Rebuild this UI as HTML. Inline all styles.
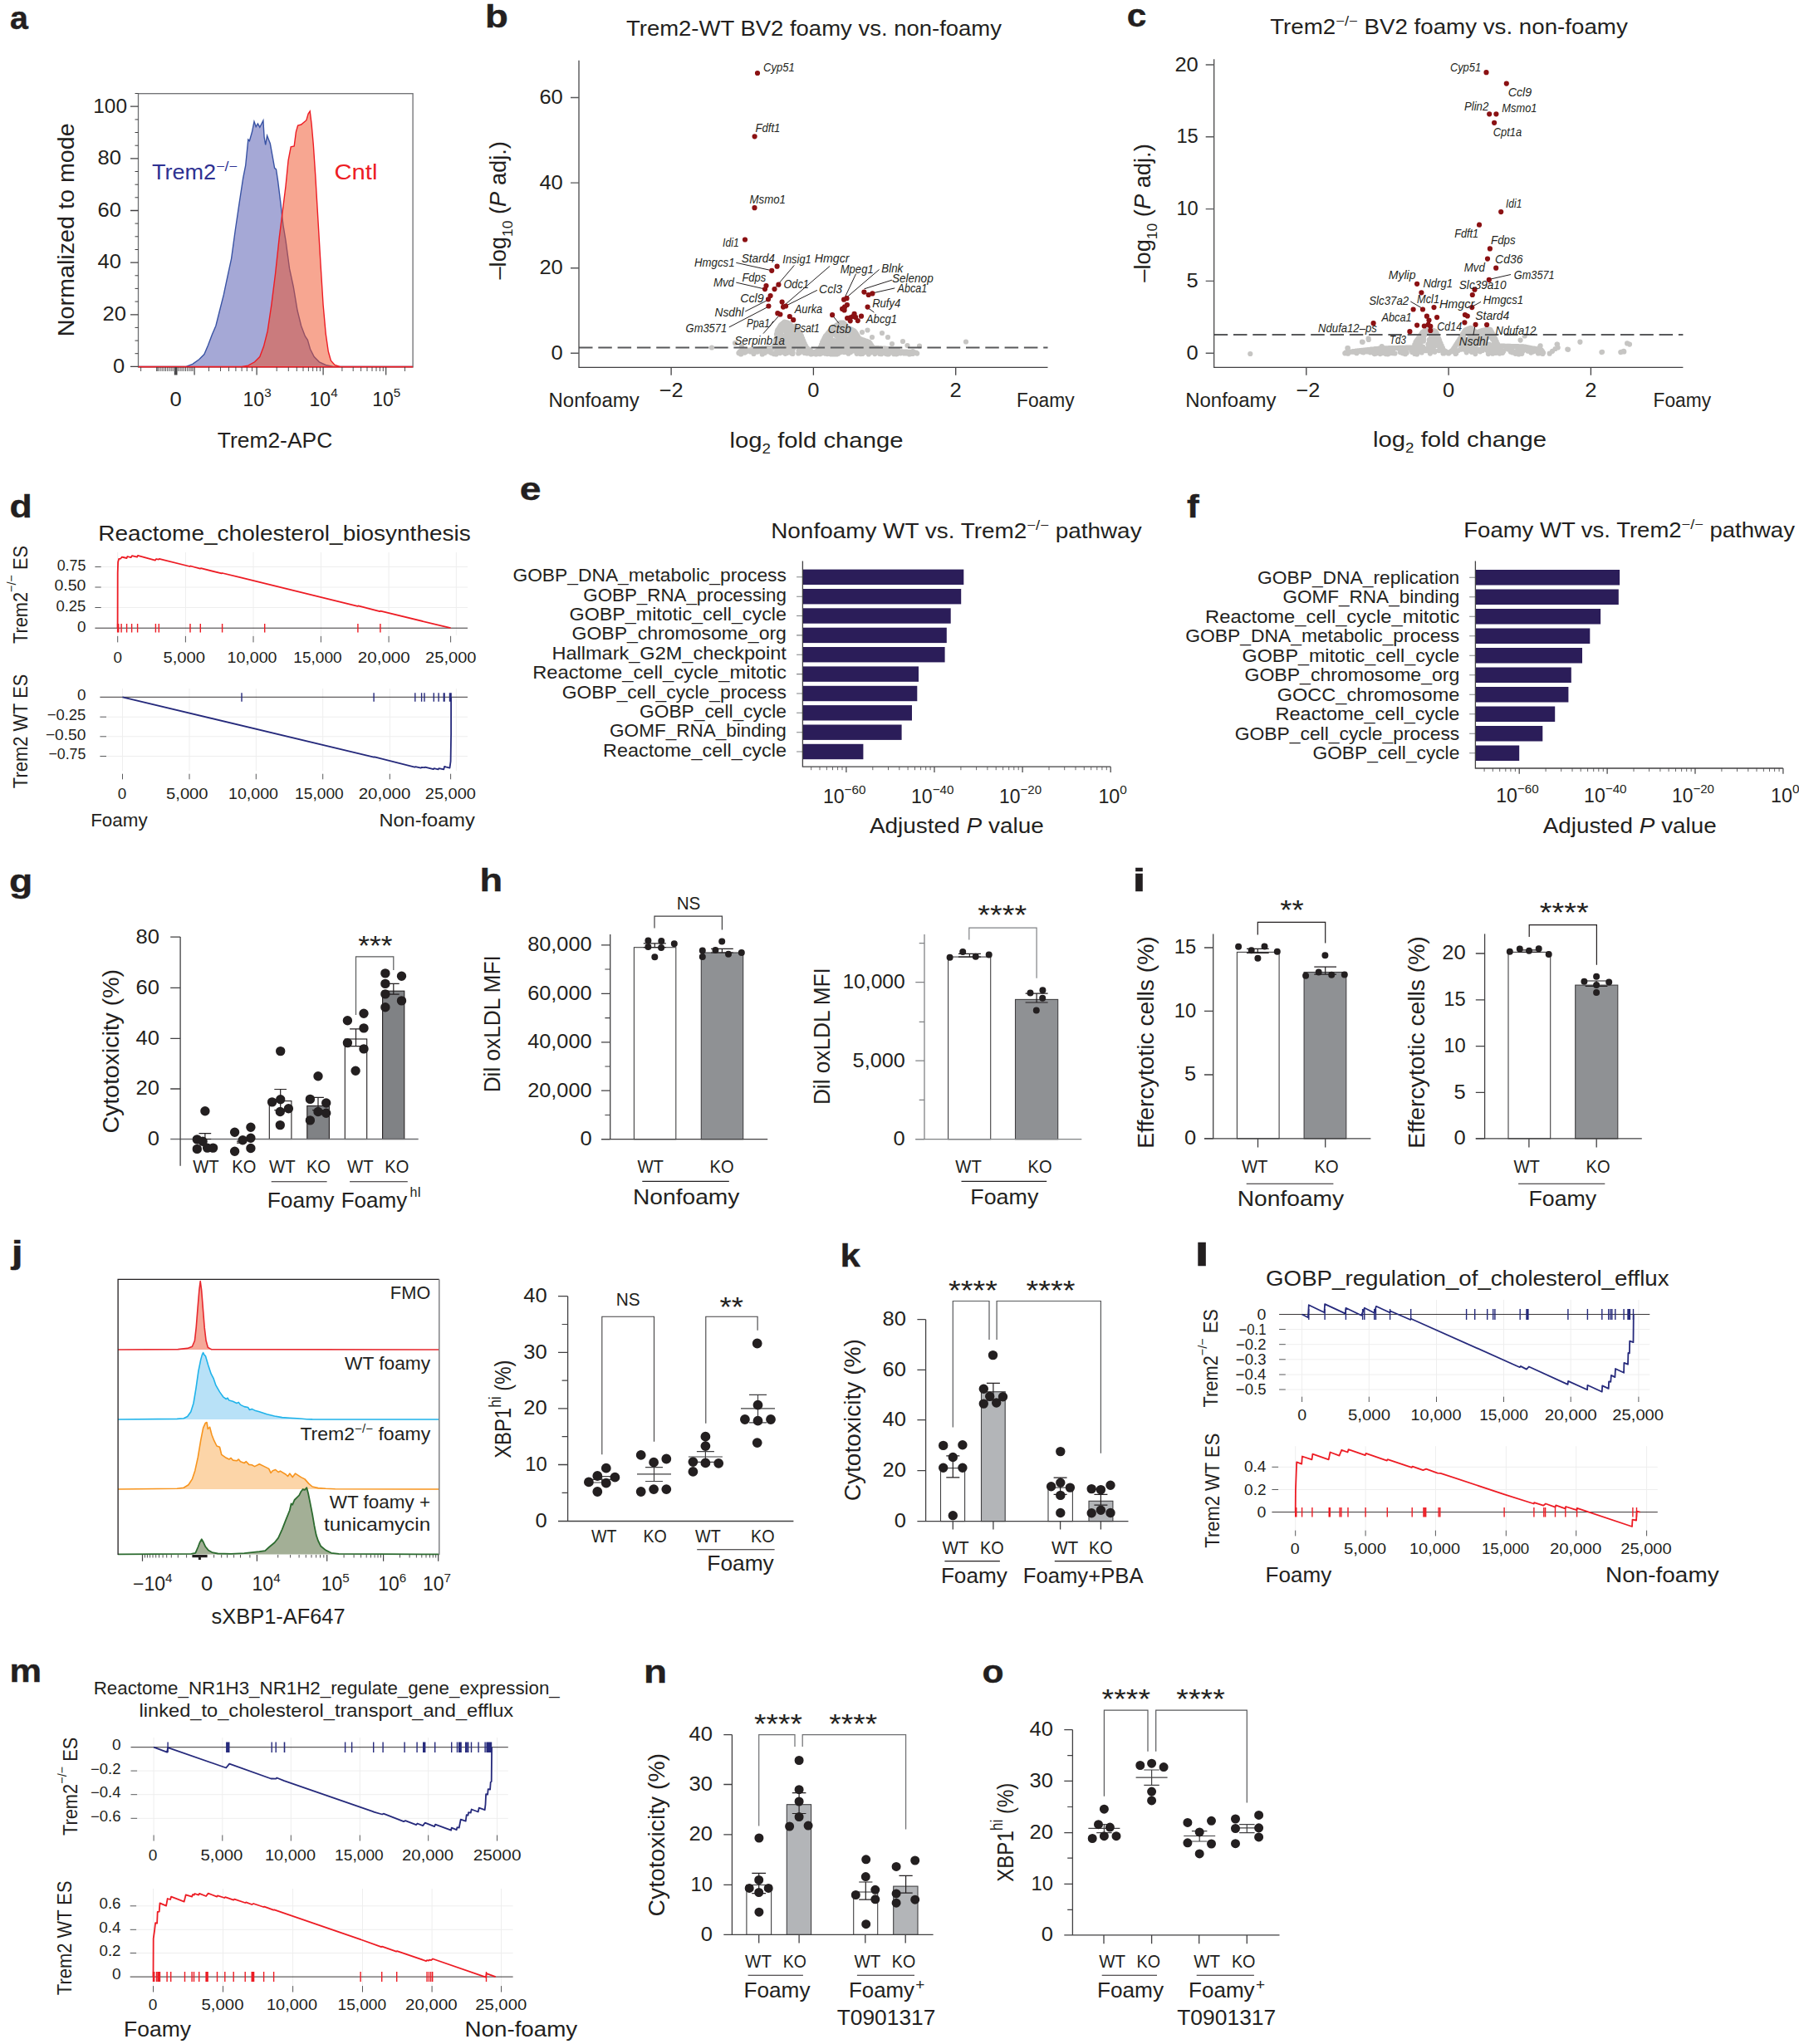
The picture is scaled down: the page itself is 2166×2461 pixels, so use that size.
<!DOCTYPE html>
<html><head><meta charset="utf-8"><title>Figure</title>
<style>html,body{margin:0;padding:0;background:#fff}svg{display:block}text{font-family:"Liberation Sans",sans-serif}</style></head>
<body>
<svg width="2166" height="2461" viewBox="0 0 2166 2461" fill="#231f20">
<rect width="2166" height="2461" fill="#fff"/>
<text transform="translate(12.1 34.8) scale(0.998 1)" font-size="39.5" font-weight="bold" stroke="#231f20" stroke-width="0.4">a</text>
<path d="M166.5 441.4 L224.1 441.4 L231.9 438.3 L239.7 432.7 L245.9 426.5 L250.6 415.6 L255.3 403.1 L259.9 392.2 L264.6 373.5 L269.3 354.9 L273.9 333.1 L278.6 311.3 L283.3 277 L287.9 245.9 L292.6 214.8 L295.7 199.2 L298.8 168.1 L300.4 169.6 L303.5 158.8 L306 146.3 L308.2 152.5 L310.4 148.8 L312.8 153.2 L316.9 145.1 L318.1 165 L319.7 174.3 L321.6 163.4 L325.3 172.8 L328.4 189.9 L330.6 202.3 L332.5 203.9 L334.6 217.9 L337.7 242.8 L340.9 270.8 L344 289.5 L348.6 323.7 L353.3 345.5 L358 373.5 L362.6 392.2 L367.3 404.7 L370.4 409.3 L373.5 420.2 L378.2 429.6 L384.4 435.8 L392.2 439.5 L401.6 441.4 L497.1 441.4" fill="#a5a8d6" stroke="#3953a4" stroke-width="1.4"/>
<path d="M166.5 441.4 L291.1 441.4 L298.8 440.2 L306.6 435.8 L312.8 429.6 L317.5 417.1 L322.2 398.4 L326.8 367.3 L331.5 330 L336.2 286.4 L340.9 249 L344 224.1 L347.1 193 L350.2 176.8 L354.2 175.9 L356.4 158.8 L358.6 151 L362.6 150 L368.9 144.7 L371.1 137 L373.2 133.9 L375.1 149.4 L377.3 174.3 L379.8 211.7 L382.9 264.6 L386 317.5 L389.1 367.3 L392.2 401.6 L395.3 423.3 L398.4 434.2 L403.1 439.5 L409.3 441.4 L497.1 441.4" fill="#f04e23" stroke="#ed1c24" stroke-width="1.4" fill-opacity="0.5"/>
<rect x="166.5" y="112.7" width="330.6" height="329.3" fill="none" stroke="#6d6e71" stroke-width="1.3"/>
<line x1="166.5" y1="441.7" x2="497.1" y2="441.7" stroke="#ed1c24" stroke-width="1.4"/>
<path d="M157 441.4H166.5M157 378.8H166.5M157 316.1H166.5M157 253.5H166.5M157 190.8H166.5M157 128.2H166.5" stroke="#414042" stroke-width="1.3" fill="none"/>
<path d="M162.5 425.7H166.5M162.5 410.1H166.5M162.5 394.4H166.5M162.5 363.1H166.5M162.5 347.4H166.5M162.5 331.8H166.5M162.5 300.5H166.5M162.5 284.8H166.5M162.5 269.1H166.5M162.5 237.8H166.5M162.5 222.2H166.5M162.5 206.5H166.5M162.5 175.2H166.5M162.5 159.5H166.5M162.5 143.9H166.5M162.5 112.5H166.5" stroke="#414042" stroke-width="1" fill="none"/>
<text x="150.3" y="448.7" font-size="23.5" text-anchor="end" textLength="14.2" lengthAdjust="spacingAndGlyphs">0</text>
<text x="152" y="386.1" font-size="23.5" text-anchor="end" textLength="28.4" lengthAdjust="spacingAndGlyphs">20</text>
<text x="146" y="323.4" font-size="23.5" text-anchor="end" textLength="28.4" lengthAdjust="spacingAndGlyphs">40</text>
<text x="146" y="260.8" font-size="23.5" text-anchor="end" textLength="28.4" lengthAdjust="spacingAndGlyphs">60</text>
<text x="146" y="198.1" font-size="23.5" text-anchor="end" textLength="28.4" lengthAdjust="spacingAndGlyphs">80</text>
<text x="153" y="135.5" font-size="23.5" text-anchor="end" textLength="40.7" lengthAdjust="spacingAndGlyphs">100</text>
<text font-size="26.8" text-anchor="middle" textLength="257" lengthAdjust="spacingAndGlyphs" transform="translate(88.6 276.7) rotate(-90)">Normalized to mode</text>
<path d="M234.1 442V451.5M309.1 442V451.5M389.1 442V451.5M464.7 442V451.5" stroke="#414042" stroke-width="1.2" fill="none"/>
<path d="M188.9 442V447M190.8 442V447M193 442V447M195.2 442V447M197.4 442V447M199.5 442V447M201.7 442V447M203.9 442V447M206.1 442V447M208.2 442V447M214.8 442V447M217 442V447M219.1 442V447M221.3 442V447M223.5 442V447M225.7 442V447M227.9 442V447M230 442V447M231.9 442V447" stroke="#414042" stroke-width="0.9" fill="none"/>
<path d="M210.4 442V451.5M211.7 442V451.5M212.9 442V451.5" stroke="#414042" stroke-width="1.2" fill="none"/>
<path d="M169.6 442V447M188.9 442V447M251.5 442V447M265.5 442V447M275.5 442V447M283.9 442V447M291.1 442V447M297.3 442V447M303.5 442V447M333.2 442V447M347.3 442V447M357.3 442V447M365 442V447M371.4 442V447M376.7 442V447M381.4 442V447M385.4 442V447M411.9 442V447M425.2 442V447M434.6 442V447M442 442V447M448 442V447M453 442V447M457.4 442V447M461.3 442V447M487.5 442V447" stroke="#414042" stroke-width="0.9" fill="none"/>
<text x="211.7" y="489" font-size="23.5" text-anchor="middle" textLength="14.2" lengthAdjust="spacingAndGlyphs">0</text>
<text x="309.6" y="489" font-size="23" text-anchor="middle">10<tspan dy="-10.6" font-size="15.2">3</tspan><tspan dy="10.6">&#8203;</tspan></text>
<text x="389.6" y="489" font-size="23" text-anchor="middle">10<tspan dy="-10.6" font-size="15.2">4</tspan><tspan dy="10.6">&#8203;</tspan></text>
<text x="465.2" y="489" font-size="23" text-anchor="middle">10<tspan dy="-10.6" font-size="15.2">5</tspan><tspan dy="10.6">&#8203;</tspan></text>
<text x="331" y="538.5" font-size="25" text-anchor="middle" textLength="138.5" lengthAdjust="spacingAndGlyphs">Trem2-APC</text>
<text x="183" y="215.7" font-size="25" textLength="103" lengthAdjust="spacingAndGlyphs" fill="#2e3192">Trem2<tspan dy="-10" font-size="16.5">−/−</tspan><tspan dy="10">&#8203;</tspan></text>
<text x="402.5" y="215.7" font-size="25" textLength="52" lengthAdjust="spacingAndGlyphs" fill="#ed1c24">Cntl</text>
<text transform="translate(584 32.5) scale(1.153 1)" font-size="39.5" font-weight="bold" stroke="#231f20" stroke-width="0.4">b</text>
<text x="980" y="42.5" font-size="25" text-anchor="middle" textLength="452" lengthAdjust="spacingAndGlyphs">Trem2-WT BV2 foamy vs. non-foamy</text>
<path d="M979.4 425h0M978.2 424.1h0M977 423.2h0M975.8 422.3h0M974.6 421.4h0M973.4 420.5h0M972.2 419.6h0M971 418.4h0M969.8 416.1h0M968.6 413.5h0M967.4 410.5h0M966.2 407.5h0M965 404.5h0M963.8 402.1h0M962.6 400.2h0M961.4 398.2h0M960.2 396.3h0M959 394.4h0M957.8 392.5h0M956.6 393.9h0M955.4 394.8h0M954.2 393.7h0M953 392.6h0M951.8 391.4h0M950.6 390.3h0M949.4 389.2h0M948.2 388.5h0M947 388.2h0M945.8 387.9h0M944.6 387.6h0M943.4 388.6h0M942.2 389.6h0M941 390.7h0M939.8 391.9h0M938.6 393.9h0M937.4 395.8h0M936.2 397.7h0M935 402.4h0M933.8 409.7h0M932.6 414.5h0M931.4 418.2h0M930.2 418.9h0M929 418.9h0M927.8 419h0M926.6 419.1h0M925.4 419.2h0M924.2 419.2h0M923 419.3h0M921.8 419.4h0M920.6 419.5h0M919.4 419.5h0M918.2 419.6h0M917 419.7h0M915.8 419.8h0M914.6 419.8h0M913.4 419.9h0M912.2 420.1h0M911 420.2h0M909.8 420.4h0M908.6 420.5h0M907.4 420.7h0M906.2 420.8h0M905 421h0M903.8 421.1h0M902.6 421.3h0M901.4 421.5h0M900.2 421.6h0M899 421.8h0M897.8 421.9h0M896.6 422.1h0M895.4 422.2h0M894.2 422.4h0M893 422.6h0M891.8 422.7h0M890.6 423.5h0M889.4 425.1h0M979.4 425h0M980.6 424.3h0M981.8 423.7h0M983 423h0M984.2 422.4h0M985.4 421.7h0M986.6 421.1h0M987.8 418.1h0M989 415h0M990.2 411.9h0M991.4 409.5h0M992.6 407h0M993.8 404.9h0M995 403.5h0M996.2 402.1h0M997.4 400.6h0M998.6 399.2h0M999.8 398.2h0M1001 397.4h0M1002.2 396.6h0M1003.4 395.4h0M1004.6 394.2h0M1005.8 393h0M1007 391.9h0M1008.2 391h0M1009.4 390.1h0M1010.6 389.2h0M1011.8 388.7h0M1013 388.7h0M1014.2 388.7h0M1015.4 388.7h0M1016.6 389.9h0M1017.8 391.4h0M1019 392.9h0M1020.2 394.3h0M1021.4 394.9h0M1022.6 395.5h0M1023.8 396.1h0M1025 396.7h0M1026.2 397.3h0M1027.4 397.9h0M1028.6 398.5h0M1029.8 400h0M1031 401.9h0M1032.2 403.9h0M1033.4 405.8h0M1034.6 407.6h0M1035.8 408.1h0M1037 408.5h0M1038.2 409h0M1039.4 409.4h0M1040.6 409.8h0M1041.8 410.3h0M1043 410.7h0M1044.2 411.1h0M1045.4 411.6h0M1046.6 412h0M1047.8 413.6h0M1049 415.5h0M1050.2 417.3h0M1051.4 418.8h0M1052.6 418.9h0M1053.8 419h0M1055 419h0M1056.2 419.1h0M1057.4 419.2h0M1058.6 419.3h0M1059.8 419.3h0M1061 419.4h0M1062.2 419.5h0M1063.4 419.6h0M1064.6 419.6h0M1065.8 419.7h0M1067 419.8h0M1068.2 419.9h0M1069.4 420h0M1070.6 420.3h0M1071.8 420.6h0M1073 420.9h0M1074.2 421.2h0M1075.4 421.5h0M1076.6 421.8h0M1077.8 422.1h0M1079 422.4h0M1080.2 422.7h0M1081.4 423h0M1082.6 423.2h0M1083.8 423.3h0M1085 423.3h0M1086.2 423.4h0M1087.4 423.5h0M1088.6 423.5h0M1089.8 423.6h0M1091 423.7h0M1092.2 423.7h0M1093.4 423.8h0M1094.6 423.9h0M1095.8 423.9h0M1097 424h0M1098.2 424.1h0M1099.4 424.1h0M1100.6 424.2h0M1101.8 424.3h0M1103 424.7h0M1104.2 425.6h0M949.1 405.1h0M1032.2 405.5h0M1025 416.8h0M914.9 420.1h0M998.6 407.5h0M1022.3 412.9h0M1015.3 411.5h0M960.3 400.9h0M1014.9 420.8h0M1029.6 411.2h0M1059.3 424.1h0M936.6 424.5h0M1056.7 423.8h0M1039.9 414.4h0M966.5 413.2h0M997.9 405.4h0M954.2 407.3h0M1012.1 399.6h0M1005.2 402.2h0M1084.5 424.1h0M938.3 406.3h0M1078.2 422.4h0M948.1 415.7h0M1043.4 416.9h0M959.1 409.7h0M1022.1 418.9h0M991 412.3h0M1043.9 424h0M1013.7 391.3h0M945.3 421.5h0M1030.5 405.6h0M1067.7 423h0M945.5 425.8h0M954 414.4h0M1046.3 418.5h0M1042.4 419.6h0M1033.7 424.3h0M921.5 420.4h0M934.5 426.5h0M990 415.6h0M948.1 396.3h0M946.1 423h0M1017.7 417.4h0M968.7 424.9h0M917.7 426.4h0M896.3 423.9h0M1011.2 423.6h0M1009 397.1h0M1085.9 423.5h0M969.6 420.8h0M977.8 424.1h0M942.9 423.5h0M970 423h0M982.5 426.4h0M1011.3 424h0M944 424.5h0M1059.4 420.7h0M1034.4 414.2h0M957.9 410.4h0M1016.9 397.8h0M1030.6 417.2h0M898.4 423.6h0M936.3 423h0M995.3 406.9h0M1029.8 409.2h0M963.4 410h0M951.2 420.6h0M1067.4 422.1h0M1014.5 414.2h0M989.6 417.6h0M950.3 417.9h0M986.2 425.6h0M937.9 419.3h0M1000.7 426.4h0M938.7 397.8h0M984.5 425.1h0M1025.1 413.5h0M946.4 398.6h0M996.1 407.2h0M948.2 424h0M946 423.2h0M1001.2 421.3h0M1004.5 416.9h0M949.7 415.6h0M938.3 411.1h0M1006.8 412.2h0M989.2 425.3h0M1048.5 424h0M898.9 423h0M940 404.5h0M1031.6 425.8h0M1005.1 426.3h0M963 424.5h0M961 415.5h0M941.4 393.9h0M1002.5 418h0M994.9 416.9h0M1042.9 419.5h0M992.9 421.5h0M974.3 421.4h0M976.1 423.9h0M1015.7 395h0M939.2 425.1h0M947.6 405.7h0M1021.1 423.3h0M957.1 397.6h0M942.1 406.4h0M960.6 402.5h0M1032 412.3h0M962.8 417.7h0M976.6 426.4h0M1017.7 406.2h0M953.7 402.2h0M999.4 426h0M1030 416.2h0M1010.7 391.4h0M971.6 425.5h0M949.5 424.2h0M961.5 418.7h0M1069.5 426.3h0M1008.7 425h0M1016.6 390.4h0M946.6 417.3h0M1003.6 411.4h0M961.2 425.5h0M891.1 425.3h0M992.9 418.5h0M1039.5 421.3h0M942.3 413.4h0M935.7 399.1h0M1000.9 426.4h0M943.1 397.3h0M1052.2 420.3h0M1005.4 416.3h0M935.5 413.8h0M1000.8 409.4h0M1052.4 421.6h0M945.7 397.1h0M938.1 419.1h0M958.7 400.9h0M1005.4 411.4h0M1037.8 421h0M1033.9 416.4h0M914 422.6h0M947.6 411.6h0M993.2 414.7h0M1006.1 421.5h0M1038.4 415.1h0M945.7 411.9h0M1024.5 401h0M1039.8 409.8h0M1087.1 424.3h0M1059.2 425.9h0M953 423.7h0M1010.9 422.6h0M1023.1 420.6h0M1004.3 399.6h0M1010.5 420.1h0M959.2 414h0M956.7 412.5h0M976.8 424.7h0M952.5 410.3h0M1022.4 396.2h0M943.6 413.2h0M1024.2 407.3h0M1042.9 415.9h0M937.7 414.2h0M1048.1 424.6h0M993.1 424.7h0M952.6 400.6h0M1058.2 419.7h0M1002.7 425.2h0M1035.7 426h0M951.9 421.8h0M1094.5 424.5h0M978 425.9h0M1038.6 420h0M1016.2 424.1h0M938.9 416.1h0M943 421h0M944.9 393.4h0M1023.1 423.2h0M940.4 424.3h0M1038 418.5h0M1053.3 426.1h0M1037.3 423.1h0M1043.2 418.6h0M955.2 419.5h0M1025.1 404.5h0M935.9 406.3h0M967.5 418.5h0M947.4 425h0M995 407.8h0M937.6 397.9h0M924.1 420.7h0M1031.3 420.4h0M946.6 422.3h0M946.9 418.7h0M1033.8 416.3h0M1031.8 420.2h0M997.6 401.6h0M1002.8 409.6h0M1006.9 404.3h0M942.7 422.3h0M1035.7 425.5h0M1011 394.7h0M946.5 393.9h0M935.2 422.8h0M973.7 421.7h0M964 410.7h0M960.9 404.2h0M1022.1 417.1h0M938.5 420.8h0M1010.8 410.1h0M938.5 418.7h0M951 410.1h0M993.6 413h0M964.2 403.4h0M1010.1 423.1h0M1038.5 414.4h0M937.4 419.2h0M1072.1 422.3h0M1013.3 402h0M927.4 422.5h0M1015.7 412.8h0M1028.6 404.9h0M1061.1 426.2h0M1027.4 414.8h0M1052.7 423.1h0M1017.2 405.6h0M1028.5 412.6h0M1036.5 426.1h0M913.2 422.7h0M957.9 414.1h0M892.2 426.1h0M940.8 399.6h0M957.3 396.6h0M961.1 406.3h0M975.7 423.5h0M997.5 417.2h0M1000.7 416.1h0M935.4 409h0M1017.7 403.1h0M1018.4 392.5h0M957.5 412.6h0M1050.2 422h0M1021.7 401.2h0M1009.3 425.1h0M936.4 420.4h0M967.7 416h0M959.3 412.8h0M941.9 408h0M950.8 408.9h0M940.2 411.3h0M938.9 400.7h0M1003.7 398.5h0M950.9 421.6h0M1015 410.8h0M1092.4 425.5h0M1010.7 393.6h0M889.6 424.9h0M1073.8 423.1h0M944 423h0M1035.2 413.3h0M1001.4 420.1h0M958.2 413h0M954 414.4h0M1009.4 417.1h0M965.5 414.5h0M959.1 409.2h0M1015.9 404.8h0M993.1 407.5h0M1061.7 423.5h0M942.1 419.3h0M997.4 423.7h0M987.3 426.2h0M941.7 413.1h0M1066.5 420.8h0M1012.3 417.7h0M910.3 422.1h0M1007.9 404.2h0M996.3 406.9h0M928.5 424.7h0M921.5 421.8h0M1070.3 424.8h0M947.3 419h0M993.7 425.7h0M1098.9 426h0M952.8 394.6h0M1021.2 408.3h0M1019 413.4h0M1021.5 425.7h0M1013.8 407h0M1024.4 404.2h0M933.7 415.5h0M941.1 396.8h0M998.4 418.5h0M1030.4 411.1h0M941.4 414.5h0M988.7 419.1h0M1019.6 419.7h0M1009.2 425.7h0M948.9 424.3h0M903.7 423.4h0M1070 426.3h0M1088.7 425.4h0M1089.4 425.5h0M999.1 425.8h0M934.3 412.4h0M1008.4 402.4h0M996 426.1h0M998.4 402h0M1074.7 423h0M900.7 421.7h0M1037.4 413.9h0M975.5 425.7h0M1009.9 412.7h0M1015 413.6h0M1006.1 424.5h0M924.6 421.1h0M990.8 413.3h0M956.8 399.8h0M935.4 418.1h0M954.6 424.6h0M1013.1 413.8h0M1029.7 414.1h0M1027.7 420.6h0M949.3 407h0M1008.9 402h0M1024.2 424h0M1009.5 419.8h0M938.8 412.4h0M994.9 420.5h0M1026.7 412.3h0M1036.5 423.1h0M1016 409.1h0M1011.3 404.9h0M907.5 424.3h0M940.8 405.3h0M1011.6 416.2h0M954 410h0M1023.8 411.5h0M1001.6 424h0M994.3 417.9h0M907.5 425.9h0M1040.2 424.4h0M939 419.1h0M955.9 405.5h0M1017.8 421.4h0M1016.1 398.9h0M1007.6 394.1h0M1065.8 420.5h0M940.4 416.5h0M930.1 425.2h0M999.1 415.2h0M954.4 420.7h0M942.8 413h0M954 408.2h0M896.7 424.6h0M1023.5 407.8h0M1060.9 421.4h0M1017.6 416.3h0M1013.5 405.5h0M1038.3 420.1h0M943.7 404.9h0M960 416.2h0M942.6 391.9h0M1054 419.4h0M954.4 418h0M1068.7 423.9h0M1045.6 413.7h0M1078.5 422.9h0M946.7 399.5h0M954.5 408.7h0M950.6 400.4h0M1079.3 426.3h0M997.8 405.3h0M942.6 423.1h0M952.1 402.1h0M1021.3 420.6h0M951.2 391.9h0M1018.3 414.1h0M1045.8 426.5h0M966.3 416.9h0M1063.4 423.5h0M1017.9 398.9h0M1066.5 425.8h0M954.1 395.1h0M959 397.8h0M1025 414.1h0M1013 418.6h0M1042.6 410.6h0M944.3 405.7h0M1076.6 424.9h0M1000.3 419.6h0M1029.8 407.1h0M1023.5 419.3h0M996.2 413.3h0M1030.3 404.2h0M960.4 400.4h0M951.9 395.6h0M943.9 388.6h0M951.3 419.8h0M1032.8 424h0M1007.9 392.7h0M1003.4 402.5h0M1043.4 418.4h0M962 422.2h0M921 424.8h0M1027.6 422.5h0M1055.7 421.9h0M1054.9 424.1h0M948.8 391.2h0M1012.5 420.5h0M955.8 395.1h0M1094.9 426.4h0M1005.7 399h0M968.3 417.2h0M968.1 415.8h0M1076.3 426.2h0M1080.3 424.4h0M938.5 422.8h0M1013.9 416.8h0M1047.2 413.2h0M1033 413.4h0M952.7 424.4h0M1056.8 420h0M1017.7 424h0M911.9 423.6h0M961.5 422.1h0M947.3 411.1h0M1084.3 425.3h0M966 418.4h0M959.5 400.9h0M1025.2 398.4h0M1025.5 406.2h0M943.5 411.7h0M951.2 419h0M1009 425.4h0M1040.8 422.2h0M991.2 421.9h0M1034.9 421.9h0M945.9 409.2h0M949.2 419.9h0M1006.2 423.3h0M991.7 415.6h0M1040.1 419.5h0M1063.1 421.1h0M1034.7 421h0M941 414.3h0M955.2 408.2h0M996.7 417.1h0M944.9 410.3h0M1091.1 424.3h0M926.1 423.4h0M1051.3 419.4h0M1064.8 423.6h0M1080.1 426.1h0M1022.2 396.9h0M1027.3 407.3h0M995.5 417.8h0M1019 394.9h0M1000 424h0M954.4 425.9h0M891.7 426.3h0M1032 407.9h0M999.9 422.9h0M1022.5 407.4h0M1027.9 398.6h0M940.2 423.7h0M996.8 419h0M1070.7 425.3h0M951.6 415.2h0M995.9 424.1h0M1029.4 406.2h0M942.4 413.9h0M1077.1 422.4h0M947.6 400.5h0M1057.4 422.4h0M941.6 423.8h0M1034.5 423.2h0M1000.1 405.8h0M1000.7 419.7h0M946.7 397.7h0M1080.5 425.4h0M1018.9 398.1h0M1008.1 414.1h0M1029.1 415.5h0M949.2 398.8h0M966.7 413.8h0M988.3 423.9h0M954.4 408.5h0M1018.6 408h0M1018.4 401.9h0M1019.5 413.1h0M953.2 412.4h0M925.3 422.9h0M951.8 392.1h0M999.3 401.7h0M953.3 425.6h0M961.3 402h0M1008.6 394.5h0M945.1 393.9h0M917.9 426.4h0M997.3 408.6h0M1024.3 409.5h0M999.8 418h0M961.4 403.6h0M1039 415.7h0M950.1 412.8h0M1024.1 402h0M1041.9 412.4h0M935.3 405.8h0M1011.5 402.8h0M944.6 413.6h0M999.6 399.7h0M969.9 418.3h0M960.9 417.6h0M924.4 421.8h0M968.8 420.3h0M965.2 420.2h0M954.5 412.6h0M1020.4 410.6h0M892.4 426.3h0M1021.5 407.8h0M939.5 411.9h0M1068.2 426.3h0M966.4 415.7h0M1006.4 401h0M946.7 406.8h0M1039.6 423.1h0M952.3 403.1h0M1021.8 420.1h0M1012.1 424.1h0M1006.1 410.3h0M1008.6 408.5h0M1041.5 416.1h0M1027.2 422.1h0M1027.9 405.2h0M995 415.4h0M1016.3 398.9h0M953.5 406.8h0M945.8 388.6h0M1047.9 420.2h0M960.6 403.6h0M959.2 406.9h0M949.6 397.1h0M1021.7 396.7h0M946.7 396.4h0M936.7 423.4h0M1010.2 420.5h0M1043.3 413.5h0M915.1 420h0M949.1 408.3h0M896 422.6h0M1021.6 416.1h0M1007.4 410.9h0M988.1 423.2h0M1003.8 400.4h0M995.4 423.9h0M965.2 414h0M1023.2 399.4h0M962.8 405.3h0M964.9 411.7h0M978.9 424.9h0M990 414.6h0M940.2 418.6h0M995.3 412.7h0M1044.6 416.8h0M1047.9 415.1h0M1036.7 423.1h0M1092.3 424.8h0M1015.8 420.5h0M935 424.1h0M1043.6 422.2h0M1034.8 411h0M931.6 426.1h0M993.8 414h0M953.3 404h0M942.4 418.7h0M950 403.7h0M994.7 404.3h0M915.1 421.7h0M1010.1 403.7h0M1013.3 396.3h0M1038.3 426h0M940.3 392.6h0M1015.9 399.2h0M993.8 415.2h0M951.6 411.4h0M1015.2 423.2h0M936.7 410.3h0M1007.4 426.4h0M1012 419.8h0M970.9 419.7h0M946.8 401.4h0M1016 405.7h0M1071.7 422.2h0M1018.3 400.1h0M945.7 393.6h0M939.8 401.8h0M962.8 412h0M959.3 415.1h0M1017.3 397.9h0M962.6 414.6h0M951.2 418h0M1037.5 413h0M1030 420.3h0M946.2 412.9h0M939.6 395.1h0M1011.4 394.2h0M1003.2 422.6h0M1007.3 392.8h0M1014.4 422.6h0M959.1 403.7h0M954.5 418.5h0M1011.2 423.1h0M1002.4 426.5h0M1007.5 417.1h0M857 418.5h0M885 413h0M893 417h0M1044.5 397.5h0M1062 401h0M1069 406h0M1087 411h0M1092.5 416h0M1107 416.5h0M1099 423h0M1163 411.5h0M1038 400h0M1050 406h0M1081 421h0M1074 414h0" stroke="#c6c5c3" stroke-width="6.2" stroke-linecap="round" fill="none"/>
<line x1="697" y1="418.5" x2="1261.5" y2="418.5" stroke="#58595b" stroke-width="1.9" stroke-dasharray="16.5 6.8"/>
<path d="M697 72.8 L697 442.3 L1261.5 442.3" fill="none" stroke="#414042" stroke-width="1.25"/>
<path d="M687 425.3H697M687 322.7H697M687 220.1H697M687 117.5H697" stroke="#58595b" stroke-width="1.4" fill="none"/>
<text x="677.8" y="432.9" font-size="23.5" text-anchor="end" textLength="14.2" lengthAdjust="spacingAndGlyphs">0</text>
<text x="677.8" y="330.3" font-size="23.5" text-anchor="end" textLength="28.4" lengthAdjust="spacingAndGlyphs">20</text>
<text x="677.8" y="227.7" font-size="23.5" text-anchor="end" textLength="28.4" lengthAdjust="spacingAndGlyphs">40</text>
<text x="677.8" y="125.1" font-size="23.5" text-anchor="end" textLength="28.4" lengthAdjust="spacingAndGlyphs">60</text>
<path d="M808.1 442.3V451.8M979.4 442.3V451.8M1150.7 442.3V451.8" stroke="#414042" stroke-width="1.3" fill="none"/>
<text x="808.1" y="478" font-size="23.5" text-anchor="middle" textLength="28.8" lengthAdjust="spacingAndGlyphs">−2</text>
<text x="979.4" y="478" font-size="23.5" text-anchor="middle" textLength="14.2" lengthAdjust="spacingAndGlyphs">0</text>
<text x="1150.7" y="478" font-size="23.5" text-anchor="middle" textLength="14.2" lengthAdjust="spacingAndGlyphs">2</text>
<text x="660.6" y="490" font-size="23" textLength="109" lengthAdjust="spacingAndGlyphs">Nonfoamy</text>
<text x="1224" y="490" font-size="23" textLength="69.6" lengthAdjust="spacingAndGlyphs">Foamy</text>
<text x="983" y="538.5" font-size="25" text-anchor="middle" textLength="209" lengthAdjust="spacingAndGlyphs">log<tspan dy="7" font-size="16">2</tspan><tspan dy="-7">&#8203;</tspan> fold change</text>
<text font-size="26.8" text-anchor="middle" textLength="166.5" lengthAdjust="spacingAndGlyphs" transform="translate(609.3 253.3) rotate(-90)">–log<tspan dy="7.5" font-size="17.2">10</tspan><tspan dy="-7.5">&#8203;</tspan> (<tspan font-style="italic">P</tspan> adj.)</text>
<path d="M886.3 316.3L926.7 325.2M886.3 340.1L919 347.6M956.3 319.4L933.4 346.3M999 320.5L944.5 367.4M983.9 349.4L945.6 368.5M1030.6 329.6L1016.8 359M1058.6 324.5L1019.7 357.8M1073.9 337.2L1040.6 347.8M1077.3 346.9L1052.4 352.5M897.2 375L924.5 361.2M877.8 393.9L923.4 370.1M919 401.6L938.3 379.6M926.3 393.4L931.2 386.7M1010.1 389.4L1003 380.5M1052.4 376.1L1045.7 371.2" stroke="#231f20" stroke-width="1" fill="none"/>
<path d="M908.5 250.2h0M897 288.5h0M935.6 320.7h0M929.2 325.8h0M937.4 342.7h0M932.5 348.1h0M922.5 344.1h0M921 348.1h0M927.6 356.1h0M925 360.3h0M925.4 368.5h0M941.6 363.6h0M943 369.6h0M946.1 368.5h0M936.3 377.2h0M939.4 378.5h0M950.8 381h0M955.2 385.2h0M1002.1 379.2h0M1016.1 360.7h0M1019.5 359.2h0M1019.9 367h0M1017.2 369.4h0M1014.1 371.9h0M1016.6 373.4h0M1020.1 383h0M1023.9 382.3h0M1028.6 377.9h0M1026.8 381h0M1030.1 381.9h0M1023.7 386.3h0M1032.8 386.1h0M1037 380.7h0M1044.6 369.6h0M1040.4 351.6h0M1045.7 355h0M1050.4 353.4h0M912 88h0M908.6 164.3h0" stroke="#8b1113" stroke-width="6.2" stroke-linecap="round" fill="none"/>
<text x="870.1" y="297.1" font-size="15.5" textLength="19.6" lengthAdjust="spacingAndGlyphs" font-style="italic">Idi1</text>
<text x="892.7" y="315.5" font-size="15.5" textLength="40.2" lengthAdjust="spacingAndGlyphs" font-style="italic">Stard4</text>
<text x="836" y="321.3" font-size="15.5" textLength="48.5" lengthAdjust="spacingAndGlyphs" font-style="italic">Hmgcs1</text>
<text x="942.3" y="317.1" font-size="15.5" textLength="34.5" lengthAdjust="spacingAndGlyphs" font-style="italic">Insig1</text>
<text x="980.8" y="316.4" font-size="15.5" textLength="41.6" lengthAdjust="spacingAndGlyphs" font-style="italic">Hmgcr</text>
<text x="1011.7" y="328.6" font-size="15.5" textLength="40" lengthAdjust="spacingAndGlyphs" font-style="italic">Mpeg1</text>
<text x="1061.3" y="328.2" font-size="15.5" textLength="26" lengthAdjust="spacingAndGlyphs" font-style="italic">Blnk</text>
<text x="1073.9" y="340" font-size="15.5" textLength="49.8" lengthAdjust="spacingAndGlyphs" font-style="italic">Selenop</text>
<text x="1080.6" y="352" font-size="15.5" textLength="35.6" lengthAdjust="spacingAndGlyphs" font-style="italic">Abca1</text>
<text x="893.4" y="339.3" font-size="15.5" textLength="28.9" lengthAdjust="spacingAndGlyphs" font-style="italic">Fdps</text>
<text x="858.9" y="345.3" font-size="15.5" textLength="25.1" lengthAdjust="spacingAndGlyphs" font-style="italic">Mvd</text>
<text x="943.4" y="347.1" font-size="15.5" textLength="30.5" lengthAdjust="spacingAndGlyphs" font-style="italic">Odc1</text>
<text x="986.1" y="353.3" font-size="15.5" textLength="28" lengthAdjust="spacingAndGlyphs" font-style="italic">Ccl3</text>
<text x="891.2" y="363.5" font-size="15.5" textLength="28.5" lengthAdjust="spacingAndGlyphs" font-style="italic">Ccl9</text>
<text x="860.5" y="381.3" font-size="15.5" textLength="35.1" lengthAdjust="spacingAndGlyphs" font-style="italic">Nsdhl</text>
<text x="956.8" y="376.9" font-size="15.5" textLength="33.4" lengthAdjust="spacingAndGlyphs" font-style="italic">Aurka</text>
<text x="1050.2" y="370.2" font-size="15.5" textLength="34" lengthAdjust="spacingAndGlyphs" font-style="italic">Rufy4</text>
<text x="1042.8" y="388.7" font-size="15.5" textLength="37.4" lengthAdjust="spacingAndGlyphs" font-style="italic">Abcg1</text>
<text x="825.6" y="400" font-size="15.5" textLength="49.6" lengthAdjust="spacingAndGlyphs" font-style="italic">Gm3571</text>
<text x="899" y="394.2" font-size="15.5" textLength="27.8" lengthAdjust="spacingAndGlyphs" font-style="italic">Ppa1</text>
<text x="956.1" y="400.2" font-size="15.5" textLength="30.7" lengthAdjust="spacingAndGlyphs" font-style="italic">Psat1</text>
<text x="996.8" y="401.3" font-size="15.5" textLength="28.2" lengthAdjust="spacingAndGlyphs" font-style="italic">Ctsb</text>
<text x="884.5" y="414.9" font-size="15.5" textLength="60.5" lengthAdjust="spacingAndGlyphs" font-style="italic">Serpinb1a</text>
<text x="919" y="86.2" font-size="15.5" textLength="37.7" lengthAdjust="spacingAndGlyphs" font-style="italic">Cyp51</text>
<text x="909.5" y="159.1" font-size="15.5" textLength="29.9" lengthAdjust="spacingAndGlyphs" font-style="italic">Fdft1</text>
<text x="902.5" y="244.9" font-size="15.5" textLength="43.4" lengthAdjust="spacingAndGlyphs" font-style="italic">Msmo1</text>
<text transform="translate(1356.7 32) scale(1.075 1)" font-size="39.5" font-weight="bold" stroke="#231f20" stroke-width="0.4">c</text>
<text x="1529.2" y="41.3" font-size="25" textLength="430.6" lengthAdjust="spacingAndGlyphs">Trem2<tspan dy="-10" font-size="16.5">−/−</tspan><tspan dy="10">&#8203;</tspan> BV2 foamy vs. non-foamy</text>
<path d="M1744.1 425.5h0M1742.9 424.7h0M1741.7 423.9h0M1740.5 423.1h0M1739.3 422.3h0M1738.1 421.5h0M1736.9 418.8h0M1735.7 416.1h0M1734.5 413.4h0M1733.3 410.4h0M1732.1 407.3h0M1730.9 404.2h0M1729.7 401.1h0M1728.5 399.2h0M1727.3 398.7h0M1726.1 398.2h0M1724.9 397.7h0M1723.7 397.2h0M1722.5 396.7h0M1721.3 396.8h0M1720.1 397.2h0M1718.9 397.6h0M1717.7 398h0M1716.5 398.4h0M1715.3 398.8h0M1714.1 399.2h0M1712.9 399.8h0M1711.7 401.5h0M1710.5 403.3h0M1709.3 405h0M1708.1 406.7h0M1706.9 408.5h0M1705.7 410.2h0M1704.5 411.9h0M1703.3 414.9h0M1702.1 418.5h0M1700.9 418.5h0M1699.7 418.6h0M1698.5 418.6h0M1697.3 418.6h0M1696.1 418.6h0M1694.9 418.7h0M1693.7 418.7h0M1692.5 418.7h0M1691.3 418.8h0M1690.1 418.8h0M1688.9 418.8h0M1687.7 418.9h0M1686.5 418.9h0M1685.3 418.9h0M1684.1 418.9h0M1682.9 419h0M1681.7 419h0M1680.5 419h0M1679.3 419.1h0M1678.1 419.1h0M1676.9 419.1h0M1675.7 419.2h0M1674.5 419.2h0M1673.3 419.2h0M1672.1 419.2h0M1670.9 419.3h0M1669.7 419.3h0M1668.5 419.3h0M1667.3 419.4h0M1666.1 419.4h0M1664.9 419.4h0M1663.7 419.5h0M1662.5 419.5h0M1661.3 419.6h0M1660.1 419.7h0M1658.9 419.8h0M1657.7 420h0M1656.5 420.1h0M1655.3 420.2h0M1654.1 420.4h0M1652.9 420.5h0M1651.7 420.6h0M1650.5 420.7h0M1649.3 420.9h0M1648.1 421h0M1646.9 421.1h0M1645.7 421.3h0M1644.5 421.4h0M1643.3 421.5h0M1642.1 421.6h0M1640.9 421.8h0M1639.7 421.9h0M1638.5 422h0M1637.3 422.2h0M1636.1 422.3h0M1634.9 422.4h0M1633.7 422.6h0M1632.5 422.7h0M1631.3 422.9h0M1630.1 423.1h0M1628.9 423.2h0M1627.7 423.4h0M1626.5 423.6h0M1625.3 423.8h0M1624.1 423.9h0M1622.9 424.1h0M1621.7 424.3h0M1620.5 424.4h0M1619.3 425.3h0M1744.1 425.5h0M1745.3 424.5h0M1746.5 423.6h0M1747.7 422.6h0M1748.9 421.7h0M1750.1 419.9h0M1751.3 418h0M1752.5 416.2h0M1753.7 414.3h0M1754.9 412.4h0M1756.1 410.5h0M1757.3 408.6h0M1758.5 406.6h0M1759.7 404.6h0M1760.9 402.7h0M1762.1 400.8h0M1763.3 398.8h0M1764.5 397.3h0M1765.7 396.8h0M1766.9 396.3h0M1768.1 395.8h0M1769.3 395.3h0M1770.5 394.8h0M1771.7 395.1h0M1772.9 396.3h0M1774.1 397.5h0M1775.3 398.7h0M1776.5 399.9h0M1777.7 400.3h0M1778.9 399.9h0M1780.1 399.5h0M1781.3 399.1h0M1782.5 398.7h0M1783.7 398.3h0M1784.9 397.9h0M1786.1 397.5h0M1787.3 397.4h0M1788.5 397.2h0M1789.7 397.1h0M1790.9 396.9h0M1792.1 396.8h0M1793.3 396.6h0M1794.5 397.2h0M1795.7 399.4h0M1796.9 401.6h0M1798.1 403.8h0M1799.3 406h0M1800.5 408.4h0M1801.7 411.1h0M1802.9 413.8h0M1804.1 416.5h0M1805.3 416.5h0M1806.5 416.6h0M1807.7 416.6h0M1808.9 416.6h0M1810.1 416.7h0M1811.3 416.7h0M1812.5 416.8h0M1813.7 416.8h0M1814.9 416.8h0M1816.1 416.9h0M1817.3 416.9h0M1818.5 416.9h0M1819.7 417h0M1820.9 417h0M1822.1 417.1h0M1823.3 417.1h0M1824.5 417.1h0M1825.7 417.2h0M1826.9 417.2h0M1828.1 417.2h0M1829.3 417.3h0M1830.5 417.3h0M1831.7 417.4h0M1832.9 417.4h0M1834.1 417.4h0M1835.3 417.5h0M1836.5 417.6h0M1837.7 417.8h0M1838.9 418.1h0M1840.1 418.3h0M1841.3 418.5h0M1842.5 418.8h0M1843.7 419h0M1844.9 419.3h0M1846.1 419.5h0M1847.3 419.7h0M1848.5 420h0M1849.7 420.2h0M1850.9 420.5h0M1852.1 420.7h0M1853.3 420.9h0M1854.5 421.2h0M1855.7 421.4h0M1856.9 422.8h0M1858.1 424.8h0M1720.8 410.1h0M1732.2 416.8h0M1736.6 420.4h0M1679.5 425.5h0M1752.5 426h0M1797 408.4h0M1704.9 426h0M1839.6 422.7h0M1655 426.1h0M1844.5 420.8h0M1687.7 420.4h0M1797.1 419.7h0M1776.6 401.8h0M1760.1 407.7h0M1704.9 419.2h0M1652.7 421.4h0M1730.4 410.1h0M1774.1 404h0M1781.1 420.9h0M1728.2 411.2h0M1649.7 424.3h0M1800.3 424.6h0M1708.6 409.5h0M1732.5 422.1h0M1752.6 416.5h0M1791.9 426.1h0M1776.3 426.1h0M1762.1 406.9h0M1806.9 418.8h0M1828 420.1h0M1770.5 422.2h0M1729.9 411.4h0M1784.5 400h0M1854.1 425.2h0M1721.5 417.8h0M1760.5 412h0M1777.1 403.5h0M1700.2 423.9h0M1787.2 413h0M1805.5 425.6h0M1690.1 425.4h0M1762.8 410h0M1783.4 414.3h0M1705.7 422h0M1816.3 420.1h0M1676.3 425.1h0M1778 411.4h0M1810.2 423h0M1719.6 419.2h0M1784.7 415.1h0M1714.8 402.8h0M1727.4 423.7h0M1732 408.3h0M1762.6 420.6h0M1722.4 421.4h0M1727.2 404.7h0M1797.8 415.2h0M1668.4 426.1h0M1789.4 414.7h0M1667.9 423.5h0M1703.3 423.8h0M1815.9 420.4h0M1760.9 415.9h0M1770.2 420.6h0M1782.1 423.3h0M1786.7 405.4h0M1803.5 421.1h0M1805 417.9h0M1834.7 418.5h0M1738.4 423.3h0M1668 422.8h0M1801.5 420h0M1699.2 421.5h0M1790 402.7h0M1778.7 407h0M1633.4 425.2h0M1665.6 423.2h0M1753.2 423.7h0M1787.4 402.7h0M1780.8 402.2h0M1781.8 401.7h0M1779.7 421.9h0M1801.8 419.4h0M1721.8 402.2h0M1630.8 423.8h0M1775 419.4h0M1713.1 421.3h0M1797.6 417.2h0M1704.7 420.2h0M1771.5 419h0M1819 419.3h0M1683.3 419.4h0M1716.7 422.2h0M1843.3 424.6h0M1800.8 418.6h0M1820.5 421.5h0M1646.8 421.9h0M1809.1 424.8h0M1640.5 423.9h0M1831.5 423.8h0M1628.6 423.6h0M1770.4 409.1h0M1764 399.9h0M1783.9 413.5h0M1661.7 426.1h0M1711.8 420.1h0M1755.7 422h0M1727.5 406.3h0M1721.4 413.6h0M1818.8 423.6h0M1795.4 424.2h0M1711.2 420.5h0M1826.1 423.1h0M1769.9 415.9h0M1712.1 409.3h0M1671.8 420.2h0M1672.6 425.6h0M1646.2 422.1h0M1802.4 422.5h0M1714 408.3h0M1819.9 422.6h0M1720.7 409h0M1724.1 413.3h0M1726.1 414.1h0M1766 409.9h0M1663.2 425.3h0M1848.1 422.7h0M1797.1 425.7h0M1728.4 412.2h0M1716.2 402.6h0M1630.3 423.3h0M1728.5 409.3h0M1761.9 404.3h0M1738.3 425.5h0M1782.9 410.6h0M1719.5 399.7h0M1857.4 426h0M1834 422.2h0M1796.4 421.1h0M1766.9 419h0M1709.2 406h0M1685.8 424.1h0M1677.2 425h0M1713.1 417.6h0M1720.6 397.8h0M1721.4 408.7h0M1784.5 411h0M1813.1 418.3h0M1711.4 409.1h0M1777 420h0M1852 425.5h0M1665.6 424.8h0M1727.9 402.3h0M1725.9 411.9h0M1732.6 408.7h0M1797.6 424.1h0M1706.8 422.7h0M1691.4 423.7h0M1769.9 414.2h0M1710.3 414.9h0M1785.1 401.8h0M1749.2 421.7h0M1783.6 412h0M1762.6 419.9h0M1731.2 414.6h0M1726.4 399.4h0M1827.3 424.4h0M1759.2 410.7h0M1792.4 416h0M1832.7 419.4h0M1769.5 401.9h0M1827.9 418.8h0M1832.3 425.8h0M1778.4 414.4h0M1803.2 416.1h0M1753.2 425.4h0M1792.5 415.6h0M1821.3 424.5h0M1829.8 419h0M1713.9 410.7h0M1777.4 423.2h0M1724 406.6h0M1780.1 402.5h0M1774 418.5h0M1723.6 398.8h0M1776 406.2h0M1728.3 414.4h0M1773.2 420.6h0M1710.3 417.8h0M1765.7 424.3h0M1772.3 403.4h0M1829.1 419.6h0M1844.9 421.8h0M1703.3 425.9h0M1709.6 413.7h0M1772.8 411.1h0M1828.6 426.4h0M1814.3 419.6h0M1721.9 425.6h0M1789.3 402.4h0M1794.4 400.8h0M1793 414.7h0M1788.7 417.6h0M1819 418h0M1700.3 421.5h0M1788.2 412.7h0M1693.7 424.8h0M1649.1 423h0M1641.7 424.3h0M1725.4 406.2h0M1728.8 402.9h0M1799.1 411.5h0M1679.2 425.5h0M1785.4 418.3h0M1767.8 411.5h0M1758.1 420.5h0M1768.8 417.6h0M1854.6 424.2h0M1643.7 421.6h0M1766.6 415.8h0M1758.9 420.7h0M1656.5 420.7h0M1722.5 407.9h0M1727.8 422.8h0M1841.1 420.1h0M1779.3 422.2h0M1773.7 408h0M1792.9 402.7h0M1687.6 424.4h0M1786.1 407.8h0M1781 404.3h0M1793 417.6h0M1675.3 423.3h0M1733 414.9h0M1659.9 421.5h0M1798.7 419.1h0M1790.7 421.9h0M1723.1 405.7h0M1841.9 422.7h0M1763.7 414.6h0M1730.4 413.3h0M1646.3 423.5h0M1735.6 418.9h0M1765.5 423.2h0M1636.9 423.2h0M1726 408.4h0M1692 426.2h0M1643.7 423h0M1763.8 409.5h0M1711.2 422.9h0M1785.5 410.9h0M1771.8 423.8h0M1792.6 405.7h0M1800.9 424.9h0M1723.5 414.3h0M1794.5 419.4h0M1654.2 425.5h0M1805.1 419.1h0M1750.8 423.5h0M1694.1 419.3h0M1785.5 416.3h0M1824.6 425.8h0M1671 426.3h0M1796.8 404.8h0M1722.4 423.8h0M1784.9 422h0M1724.6 417.7h0M1769.3 404h0M1700.5 421.3h0M1791.6 400.8h0M1789.2 407.8h0M1788.3 413.4h0M1711.7 424.4h0M1791.7 403.6h0M1792.8 422.7h0M1649.2 423.2h0M1807.2 421.7h0M1845.6 423.4h0M1716.6 420.1h0M1758 415h0M1780.2 408.6h0M1805.2 417.8h0M1782.7 412.8h0M1801.2 414.6h0M1855.7 424.1h0M1706 426.4h0M1719.5 414.7h0M1854 424.5h0M1726.4 413.3h0M1656.7 425.6h0M1727.1 416.9h0M1771.7 417.8h0M1623.2 425.5h0M1706.6 416.9h0M1691.9 421.7h0M1788.3 419.5h0M1725.2 418.4h0M1771.9 397.1h0M1714.1 405.6h0M1720.9 419.1h0M1688.5 425.1h0M1737.5 425.4h0M1690.6 421.4h0M1718.2 398.4h0M1726.2 403.6h0M1719.8 422.2h0M1790.4 403.2h0M1705.4 420.6h0M1709.6 409.8h0M1733.8 419.4h0M1723.9 415.9h0M1802.7 420.4h0M1812.6 417.5h0M1722.3 402.9h0M1623 425.7h0M1685.5 420.7h0M1776.9 406.7h0M1830.8 418.5h0M1765.1 421.9h0M1622.9 419h0M1640 411.7h0M1647.8 409h0M1830.6 409.6h0M1835.7 404.5h0M1854.6 416.3h0M1865.7 425.7h0M1869.1 422.8h0M1874.6 414.5h0M1875.7 418.5h0M1888 420.8h0M1902.4 411.7h0M1928.4 424.1h0M1951.3 424.1h0M1955.3 423.4h0M1959.1 413.4h0M1505.3 426h0M1902.4 411.8h0M1929 423.8h0M1952 423.8h0M1955 422.9h0M1962 414.6h0M1887.3 420.6h0M1875 414.6h0M1872.6 420h0M1865.7 425.6h0M1854 417.8h0M1622.4 419.2h0M1640.7 411.8h0M1647.6 407.7h0M1663.7 417h0" stroke="#c6c5c3" stroke-width="6.2" stroke-linecap="round" fill="none"/>
<line x1="1461.7" y1="403" x2="2026.4" y2="403" stroke="#58595b" stroke-width="1.9" stroke-dasharray="16.5 6.8"/>
<path d="M1461.7 71.2 L1461.7 442.3 L2026.4 442.3" fill="none" stroke="#414042" stroke-width="1.25"/>
<path d="M1451.7 425.2H1461.7M1451.7 338.4H1461.7M1451.7 251.6H1461.7M1451.7 164.8H1461.7M1451.7 78H1461.7" stroke="#58595b" stroke-width="1.4" fill="none"/>
<text x="1442.8" y="432.8" font-size="23.5" text-anchor="end" textLength="14.2" lengthAdjust="spacingAndGlyphs">0</text>
<text x="1442.8" y="346" font-size="23.5" text-anchor="end" textLength="14.2" lengthAdjust="spacingAndGlyphs">5</text>
<text x="1442.8" y="259.2" font-size="23.5" text-anchor="end" textLength="26.4" lengthAdjust="spacingAndGlyphs">10</text>
<text x="1442.8" y="172.4" font-size="23.5" text-anchor="end" textLength="26.4" lengthAdjust="spacingAndGlyphs">15</text>
<text x="1442.8" y="85.6" font-size="23.5" text-anchor="end" textLength="28.4" lengthAdjust="spacingAndGlyphs">20</text>
<path d="M1572.8 442.3V451.8M1744.1 442.3V451.8M1915.4 442.3V451.8" stroke="#414042" stroke-width="1.3" fill="none"/>
<text x="1574.8" y="478.4" font-size="23.5" text-anchor="middle" textLength="28.8" lengthAdjust="spacingAndGlyphs">−2</text>
<text x="1744.1" y="478.4" font-size="23.5" text-anchor="middle" textLength="14.2" lengthAdjust="spacingAndGlyphs">0</text>
<text x="1915.4" y="478.4" font-size="23.5" text-anchor="middle" textLength="14.2" lengthAdjust="spacingAndGlyphs">2</text>
<text x="1427.2" y="490.4" font-size="23" textLength="109.3" lengthAdjust="spacingAndGlyphs">Nonfoamy</text>
<text x="1990.6" y="490.4" font-size="23" textLength="69.4" lengthAdjust="spacingAndGlyphs">Foamy</text>
<text x="1757.5" y="538" font-size="25" text-anchor="middle" textLength="209" lengthAdjust="spacingAndGlyphs">log<tspan dy="7" font-size="16">2</tspan><tspan dy="-7">&#8203;</tspan> fold change</text>
<text font-size="26.8" text-anchor="middle" textLength="166.5" lengthAdjust="spacingAndGlyphs" transform="translate(1385.3 256.5) rotate(-90)">–log<tspan dy="7.5" font-size="17.2">10</tspan><tspan dy="-7.5">&#8203;</tspan> (<tspan font-style="italic">P</tspan> adj.)</text>
<path d="M1819 330.5L1793.5 336.3M1698.3 363L1712.3 371.2M1783 363.4L1772.8 369M1775.7 393.4L1773.9 403.4" stroke="#231f20" stroke-width="1" fill="none"/>
<path d="M1807.2 255.1h0M1781 270.7h0M1793.9 299.4h0M1791 311.6h0M1801.2 322.7h0M1792.8 336.9h0M1775.5 348.7h0M1772.8 355h0M1772.3 370.1h0M1706.1 341.8h0M1711.4 352.3h0M1726.5 370.1h0M1701.6 372.5h0M1713 372.5h0M1717.9 380.7h0M1730.1 382.1h0M1720.5 385.6h0M1706.1 391.6h0M1714.8 392.5h0M1719.6 390.8h0M1722.3 392.8h0M1722.3 397.9h0M1697.4 399.2h0M1653.6 389.2h0M1763.9 379h0M1766.8 380.5h0M1763.4 388.3h0M1776.6 390.8h0M1790.1 391h0M1789.5 87.2h0M1813.8 100.6h0M1793.2 137.3h0M1801.4 137.3h0M1799.1 147.8h0" stroke="#8b1113" stroke-width="6.2" stroke-linecap="round" fill="none"/>
<text x="1813" y="250.1" font-size="15.5" textLength="19.3" lengthAdjust="spacingAndGlyphs" font-style="italic">Idi1</text>
<text x="1751.2" y="286.4" font-size="15.5" textLength="28.9" lengthAdjust="spacingAndGlyphs" font-style="italic">Fdft1</text>
<text x="1795" y="294.2" font-size="15.5" textLength="29.6" lengthAdjust="spacingAndGlyphs" font-style="italic">Fdps</text>
<text x="1800.1" y="317.1" font-size="15.5" textLength="33.4" lengthAdjust="spacingAndGlyphs" font-style="italic">Cd36</text>
<text x="1762.8" y="327.1" font-size="15.5" textLength="25.1" lengthAdjust="spacingAndGlyphs" font-style="italic">Mvd</text>
<text x="1822.8" y="336" font-size="15.5" textLength="48.9" lengthAdjust="spacingAndGlyphs" font-style="italic">Gm3571</text>
<text x="1671.8" y="336" font-size="15.5" textLength="32.7" lengthAdjust="spacingAndGlyphs" font-style="italic">Mylip</text>
<text x="1713.4" y="346.4" font-size="15.5" textLength="35.6" lengthAdjust="spacingAndGlyphs" font-style="italic">Ndrg1</text>
<text x="1756.8" y="347.5" font-size="15.5" textLength="56.7" lengthAdjust="spacingAndGlyphs" font-style="italic">Slc39a10</text>
<text x="1648.3" y="367.1" font-size="15.5" textLength="47.8" lengthAdjust="spacingAndGlyphs" font-style="italic">Slc37a2</text>
<text x="1706.1" y="364.9" font-size="15.5" textLength="26.9" lengthAdjust="spacingAndGlyphs" font-style="italic">Mcl1</text>
<text x="1733" y="370.9" font-size="15.5" textLength="42.2" lengthAdjust="spacingAndGlyphs" font-style="italic">Hmgcr</text>
<text x="1785.7" y="366.4" font-size="15.5" textLength="48.5" lengthAdjust="spacingAndGlyphs" font-style="italic">Hmgcs1</text>
<text x="1776.3" y="384.9" font-size="15.5" textLength="40.9" lengthAdjust="spacingAndGlyphs" font-style="italic">Stard4</text>
<text x="1663.4" y="386.9" font-size="15.5" textLength="36.2" lengthAdjust="spacingAndGlyphs" font-style="italic">Abca1</text>
<text x="1730.3" y="397.6" font-size="15.5" textLength="29.8" lengthAdjust="spacingAndGlyphs" font-style="italic">Cd14</text>
<text x="1587.1" y="399.8" font-size="15.5" textLength="70.7" lengthAdjust="spacingAndGlyphs" font-style="italic">Ndufa12–ps</text>
<text x="1800.6" y="403.1" font-size="15.5" textLength="48.9" lengthAdjust="spacingAndGlyphs" font-style="italic">Ndufa12</text>
<text x="1673" y="413.8" font-size="15.5" textLength="19.8" lengthAdjust="spacingAndGlyphs" font-style="italic">Td3</text>
<text x="1756.8" y="416" font-size="15.5" textLength="34.9" lengthAdjust="spacingAndGlyphs" font-style="italic">Nsdhl</text>
<text x="1745.9" y="85.8" font-size="15.5" textLength="37.2" lengthAdjust="spacingAndGlyphs" font-style="italic">Cyp51</text>
<text x="1815.7" y="116" font-size="15.5" textLength="28.5" lengthAdjust="spacingAndGlyphs" font-style="italic">Ccl9</text>
<text x="1762.9" y="132.6" font-size="15.5" textLength="29.4" lengthAdjust="spacingAndGlyphs" font-style="italic">Plin2</text>
<text x="1808.3" y="134.8" font-size="15.5" textLength="42.2" lengthAdjust="spacingAndGlyphs" font-style="italic">Msmo1</text>
<text x="1797.8" y="164.3" font-size="15.5" textLength="34.4" lengthAdjust="spacingAndGlyphs" font-style="italic">Cpt1a</text>
<text transform="translate(11.5 622.5) scale(1.128 1)" font-size="39.5" font-weight="bold" stroke="#231f20" stroke-width="0.4">d</text>
<text x="118.3" y="651.3" font-size="26.3" textLength="448.5" lengthAdjust="spacingAndGlyphs">Reactome_cholesterol_biosynthesis</text>
<path d="M141.7 665V765M223.4 665V765M305 665V765M386.4 665V765M468.1 665V765M549.3 665V765" stroke="#eeeeee" stroke-width="1" fill="none"/>
<path d="M121.7 682.5H563M121.7 707H563M121.7 731.5H563" stroke="#eeeeee" stroke-width="1" fill="none"/>
<path d="M114.4 682.5H121.7M114.4 707H121.7M114.4 731.5H121.7" stroke="#58595b" stroke-width="1" fill="none"/>
<line x1="114.4" y1="756.2" x2="563" y2="756.2" stroke="#231f20" stroke-width="0.9"/>
<text x="103.4" y="686.9" font-size="18.5" text-anchor="end" textLength="34.7" lengthAdjust="spacingAndGlyphs">0.75</text>
<text x="103.4" y="711.4" font-size="18.5" text-anchor="end" textLength="38" lengthAdjust="spacingAndGlyphs">0.50</text>
<text x="103.4" y="735.9" font-size="18.5" text-anchor="end" textLength="36" lengthAdjust="spacingAndGlyphs">0.25</text>
<text x="103.4" y="760.6" font-size="18.5" text-anchor="end" textLength="10.5" lengthAdjust="spacingAndGlyphs">0</text>
<path d="M141.7 765.8V773.4M223.4 765.8V773.4M305 765.8V773.4M386.4 765.8V773.4M468.1 765.8V773.4M542.6 765.8V773.4" stroke="#58595b" stroke-width="1" fill="none"/>
<text x="141.7" y="797.7" font-size="18.5" text-anchor="middle" textLength="10.5" lengthAdjust="spacingAndGlyphs">0</text>
<text x="221.8" y="797.7" font-size="18.5" text-anchor="middle" textLength="50.7" lengthAdjust="spacingAndGlyphs">5,000</text>
<text x="303.5" y="797.7" font-size="18.5" text-anchor="middle" textLength="60" lengthAdjust="spacingAndGlyphs">10,000</text>
<text x="382.5" y="797.7" font-size="18.5" text-anchor="middle" textLength="58.3" lengthAdjust="spacingAndGlyphs">15,000</text>
<text x="462.3" y="797.7" font-size="18.5" text-anchor="middle" textLength="62.9" lengthAdjust="spacingAndGlyphs">20,000</text>
<text x="542.8" y="797.7" font-size="18.5" text-anchor="middle" textLength="61.4" lengthAdjust="spacingAndGlyphs">25,000</text>
<path d="M141.6 756.3 L141.7 690 L142.1 676.7 L143.1 673 L145.1 672.7 L146.7 670.7 L148.4 671 L152.6 672 L153.4 670 L157.6 671.2 L158.9 669.2 L165.1 670.7 L165.9 668.9 L186.8 674.7 L188.1 673 L190.9 673.7 L191.8 672.9 L228.5 682 L229.3 681.5 L241 684.7 L241.8 684.2 L266.8 690.4 L267.6 690 L290 695.4 L430.5 729.9 L431.2 729.4 L457.2 736.2 L458 735.7 L542.6 756.2" fill="none" stroke="#ed1c24" stroke-width="1.8" stroke-linejoin="round"/>
<path d="M141.6 750.9V761.4M142.7 750.9V761.4M146.1 750.9V761.4M152.6 750.9V761.4M158.6 750.9V761.4M165.6 750.9V761.4M187.4 750.9V761.4M191.3 750.9V761.4M229 750.9V761.4M241.3 750.9V761.4M267.6 750.9V761.4M318.7 750.9V761.4M430.9 750.9V761.4M457.9 750.9V761.4" stroke="#ed1c24" stroke-width="1.4" fill="none"/>
<text font-size="23" text-anchor="middle" textLength="118" lengthAdjust="spacingAndGlyphs" transform="translate(32.5 716) rotate(-90)">Trem2<tspan dy="-13.3" font-size="15.2">−/−</tspan><tspan dy="13.3">&#8203;</tspan> ES</text>
<path d="M147.5 829V928M228 829V928M308.3 829V928M388.7 829V928M469.3 829V928M549.3 829V928" stroke="#eeeeee" stroke-width="1" fill="none"/>
<path d="M128 863.2H563M128 886.8H563M128 910.5H563" stroke="#eeeeee" stroke-width="1" fill="none"/>
<path d="M120.4 863.2H128M120.4 886.8H128M120.4 910.5H128" stroke="#58595b" stroke-width="1" fill="none"/>
<line x1="120.4" y1="839.3" x2="563" y2="839.3" stroke="#231f20" stroke-width="0.9"/>
<text x="103.4" y="867" font-size="18.5" text-anchor="end" textLength="46.7" lengthAdjust="spacingAndGlyphs">−0.25</text>
<text x="103.4" y="890.6" font-size="18.5" text-anchor="end" textLength="48.5" lengthAdjust="spacingAndGlyphs">−0.50</text>
<text x="103.4" y="914.3" font-size="18.5" text-anchor="end" textLength="45" lengthAdjust="spacingAndGlyphs">−0.75</text>
<text x="103.4" y="843.1" font-size="18.5" text-anchor="end" textLength="10.5" lengthAdjust="spacingAndGlyphs">0</text>
<path d="M147.5 931.7V938.3M228 931.7V938.3M308.3 931.7V938.3M388.7 931.7V938.3M469.3 931.7V938.3M542.6 931.7V938.3" stroke="#58595b" stroke-width="1" fill="none"/>
<text x="147" y="961.9" font-size="18.5" text-anchor="middle" textLength="10.5" lengthAdjust="spacingAndGlyphs">0</text>
<text x="225.3" y="961.9" font-size="18.5" text-anchor="middle" textLength="50.5" lengthAdjust="spacingAndGlyphs">5,000</text>
<text x="305" y="961.9" font-size="18.5" text-anchor="middle" textLength="60" lengthAdjust="spacingAndGlyphs">10,000</text>
<text x="384.4" y="961.9" font-size="18.5" text-anchor="middle" textLength="58.7" lengthAdjust="spacingAndGlyphs">15,000</text>
<text x="463" y="961.9" font-size="18.5" text-anchor="middle" textLength="62.6" lengthAdjust="spacingAndGlyphs">20,000</text>
<text x="542.4" y="961.9" font-size="18.5" text-anchor="middle" textLength="61.2" lengthAdjust="spacingAndGlyphs">25,000</text>
<path d="M147.5 839.3 L450.1 911.7 L450.9 911.4 L499.3 923.7 L500.1 923.1 L506.8 924.7 L507.6 923.9 L511 924.2 L511.8 923.6 L521.8 926.2 L522.6 925.1 L527.6 926.4 L528.5 925.1 L534.3 926.4 L535.1 922.9 L536.8 923.4 L541.5 924.6 L542.6 916.7 L543.1 883.4 L543.1 839.4" fill="none" stroke="#262a7c" stroke-width="1.8" stroke-linejoin="round"/>
<path d="M291 834.2V844.7M450.1 834.2V844.7M499.8 834.2V844.7M507.6 834.2V844.7M511 834.2V844.7M522.3 834.2V844.7M528.1 834.2V844.7M534.3 834.2V844.7M535.1 834.2V844.7M541.5 834.2V844.7M542.3 834.2V844.7M543.1 834.2V844.7" stroke="#262a7c" stroke-width="1.4" fill="none"/>
<text font-size="23" text-anchor="middle" textLength="137.5" lengthAdjust="spacingAndGlyphs" transform="translate(32.5 880.4) rotate(-90)">Trem2 WT ES</text>
<text x="109.2" y="995.3" font-size="22" textLength="68.4" lengthAdjust="spacingAndGlyphs">Foamy</text>
<text x="456.4" y="995.3" font-size="22" textLength="115.4" lengthAdjust="spacingAndGlyphs">Non-foamy</text>
<text transform="translate(625.8 602.2) scale(1.171 1)" font-size="39.5" font-weight="bold" stroke="#231f20" stroke-width="0.4">e</text>
<text x="928.2" y="648" font-size="25" textLength="446.4" lengthAdjust="spacingAndGlyphs">Nonfoamy WT vs. Trem2<tspan dy="-10" font-size="16.5">−/−</tspan><tspan dy="10">&#8203;</tspan> pathway</text>
<rect x="966.4" y="685.6" width="193.9" height="18.4" fill="#2b1d59" stroke="none" stroke-width="0"/>
<text x="946.9" y="700.3" font-size="22.6" text-anchor="end" textLength="329.5" lengthAdjust="spacingAndGlyphs">GOBP_DNA_metabolic_process</text>
<rect x="966.4" y="709" width="190.8" height="18.4" fill="#2b1d59" stroke="none" stroke-width="0"/>
<text x="946.9" y="723.7" font-size="22.6" text-anchor="end" textLength="244.6" lengthAdjust="spacingAndGlyphs">GOBP_RNA_processing</text>
<rect x="966.4" y="732.3" width="178.3" height="18.4" fill="#2b1d59" stroke="none" stroke-width="0"/>
<text x="946.9" y="747" font-size="22.6" text-anchor="end" textLength="261.3" lengthAdjust="spacingAndGlyphs">GOBP_mitotic_cell_cycle</text>
<rect x="966.4" y="755.7" width="173.4" height="18.4" fill="#2b1d59" stroke="none" stroke-width="0"/>
<text x="946.9" y="770.4" font-size="22.6" text-anchor="end" textLength="258.4" lengthAdjust="spacingAndGlyphs">GOBP_chromosome_org</text>
<rect x="966.4" y="779" width="171.2" height="18.4" fill="#2b1d59" stroke="none" stroke-width="0"/>
<text x="946.9" y="793.7" font-size="22.6" text-anchor="end" textLength="282.4" lengthAdjust="spacingAndGlyphs">Hallmark_G2M_checkpoint</text>
<rect x="966.4" y="802.4" width="139.6" height="18.4" fill="#2b1d59" stroke="none" stroke-width="0"/>
<text x="946.9" y="817.1" font-size="22.6" text-anchor="end" textLength="305.7" lengthAdjust="spacingAndGlyphs">Reactome_cell_cycle_mitotic</text>
<rect x="966.4" y="825.8" width="137.9" height="18.4" fill="#2b1d59" stroke="none" stroke-width="0"/>
<text x="946.9" y="840.5" font-size="22.6" text-anchor="end" textLength="270.2" lengthAdjust="spacingAndGlyphs">GOBP_cell_cycle_process</text>
<rect x="966.4" y="849.1" width="131.6" height="18.4" fill="#2b1d59" stroke="none" stroke-width="0"/>
<text x="946.9" y="863.8" font-size="22.6" text-anchor="end" textLength="176.8" lengthAdjust="spacingAndGlyphs">GOBP_cell_cycle</text>
<rect x="966.4" y="872.5" width="119.2" height="18.4" fill="#2b1d59" stroke="none" stroke-width="0"/>
<text x="946.9" y="887.2" font-size="22.6" text-anchor="end" textLength="212.8" lengthAdjust="spacingAndGlyphs">GOMF_RNA_binding</text>
<rect x="966.4" y="895.8" width="73" height="18.4" fill="#2b1d59" stroke="none" stroke-width="0"/>
<text x="946.9" y="910.5" font-size="22.6" text-anchor="end" textLength="220.8" lengthAdjust="spacingAndGlyphs">Reactome_cell_cycle</text>
<path d="M959.1 694.8H966.4M959.1 718.2H966.4M959.1 741.5H966.4M959.1 764.9H966.4M959.1 788.2H966.4M959.1 811.6H966.4M959.1 835H966.4M959.1 858.3H966.4M959.1 881.7H966.4M959.1 905H966.4" stroke="#808285" stroke-width="1.1" fill="none"/>
<path d="M966.4 675.6 L966.4 923.2 L1337.3 923.2" fill="none" stroke="#414042" stroke-width="1.3"/>
<path d="M1018.9 923.2V929.9M1125 923.2V929.9M1231.1 923.2V929.9M1337.2 923.2V929.9" stroke="#414042" stroke-width="1.2" fill="none"/>
<path d="M976.7 923.2V927.2M987 923.2V927.2M995.4 923.2V927.2M1002.5 923.2V927.2M1008.6 923.2V927.2M1014 923.2V927.2M1050.8 923.2V927.2M1069.5 923.2V927.2M1082.8 923.2V927.2M1093.1 923.2V927.2M1101.5 923.2V927.2M1108.6 923.2V927.2M1114.7 923.2V927.2M1120.1 923.2V927.2M1156.9 923.2V927.2M1175.6 923.2V927.2M1188.9 923.2V927.2M1199.2 923.2V927.2M1207.6 923.2V927.2M1214.7 923.2V927.2M1220.8 923.2V927.2M1226.2 923.2V927.2M1263 923.2V927.2M1281.7 923.2V927.2M1295 923.2V927.2M1305.3 923.2V927.2M1313.7 923.2V927.2M1320.8 923.2V927.2M1326.9 923.2V927.2M1332.3 923.2V927.2" stroke="#414042" stroke-width="0.8" fill="none"/>
<text x="990.9" y="966.9" font-size="23.5" textLength="51.5" lengthAdjust="spacingAndGlyphs">10<tspan dy="-10.8" font-size="15.5">−60</tspan><tspan dy="10.8">&#8203;</tspan></text>
<text x="1097" y="966.9" font-size="23.5" textLength="51.5" lengthAdjust="spacingAndGlyphs">10<tspan dy="-10.8" font-size="15.5">−40</tspan><tspan dy="10.8">&#8203;</tspan></text>
<text x="1203.1" y="966.9" font-size="23.5" textLength="51" lengthAdjust="spacingAndGlyphs">10<tspan dy="-10.8" font-size="15.5">−20</tspan><tspan dy="10.8">&#8203;</tspan></text>
<text x="1322.4" y="966.9" font-size="23.5" textLength="34.5" lengthAdjust="spacingAndGlyphs">10<tspan dy="-10.8" font-size="15.5">0</tspan><tspan dy="10.8">&#8203;</tspan></text>
<text x="1046.9" y="1002.5" font-size="25" textLength="209.9" lengthAdjust="spacingAndGlyphs">Adjusted <tspan font-style="italic">P</tspan> value</text>
<text transform="translate(1429.1 622.6) scale(1.116 1)" font-size="39.5" font-weight="bold" stroke="#231f20" stroke-width="0.4">f</text>
<text x="1762.3" y="647.3" font-size="25" textLength="398.6" lengthAdjust="spacingAndGlyphs">Foamy WT vs. Trem2<tspan dy="-10" font-size="16.5">−/−</tspan><tspan dy="10">&#8203;</tspan> pathway</text>
<rect x="1776.4" y="686" width="173.7" height="18.5" fill="#2b1d59" stroke="none" stroke-width="0"/>
<text x="1757.3" y="702.7" font-size="22.6" text-anchor="end" textLength="243.2" lengthAdjust="spacingAndGlyphs">GOBP_DNA_replication</text>
<rect x="1776.4" y="709.5" width="172.4" height="18.5" fill="#2b1d59" stroke="none" stroke-width="0"/>
<text x="1757.3" y="726.2" font-size="22.6" text-anchor="end" textLength="212.8" lengthAdjust="spacingAndGlyphs">GOMF_RNA_binding</text>
<rect x="1776.4" y="733" width="150.7" height="18.5" fill="#2b1d59" stroke="none" stroke-width="0"/>
<text x="1757.3" y="749.7" font-size="22.6" text-anchor="end" textLength="306.2" lengthAdjust="spacingAndGlyphs">Reactome_cell_cycle_mitotic</text>
<rect x="1776.4" y="756.5" width="137.9" height="18.5" fill="#2b1d59" stroke="none" stroke-width="0"/>
<text x="1757.3" y="773.2" font-size="22.6" text-anchor="end" textLength="330" lengthAdjust="spacingAndGlyphs">GOBP_DNA_metabolic_process</text>
<rect x="1776.4" y="780" width="128.6" height="18.5" fill="#2b1d59" stroke="none" stroke-width="0"/>
<text x="1757.3" y="796.7" font-size="22.6" text-anchor="end" textLength="261.7" lengthAdjust="spacingAndGlyphs">GOBP_mitotic_cell_cycle</text>
<rect x="1776.4" y="803.5" width="115.4" height="18.5" fill="#2b1d59" stroke="none" stroke-width="0"/>
<text x="1757.3" y="820.2" font-size="22.6" text-anchor="end" textLength="258.8" lengthAdjust="spacingAndGlyphs">GOBP_chromosome_org</text>
<rect x="1776.4" y="827" width="112" height="18.5" fill="#2b1d59" stroke="none" stroke-width="0"/>
<text x="1757.3" y="843.7" font-size="22.6" text-anchor="end" textLength="219.5" lengthAdjust="spacingAndGlyphs">GOCC_chromosome</text>
<rect x="1776.4" y="850.5" width="95.8" height="18.5" fill="#2b1d59" stroke="none" stroke-width="0"/>
<text x="1757.3" y="867.2" font-size="22.6" text-anchor="end" textLength="221.7" lengthAdjust="spacingAndGlyphs">Reactome_cell_cycle</text>
<rect x="1776.4" y="874" width="80.9" height="18.5" fill="#2b1d59" stroke="none" stroke-width="0"/>
<text x="1757.3" y="890.7" font-size="22.6" text-anchor="end" textLength="270.6" lengthAdjust="spacingAndGlyphs">GOBP_cell_cycle_process</text>
<rect x="1776.4" y="897.5" width="52.8" height="18.5" fill="#2b1d59" stroke="none" stroke-width="0"/>
<text x="1757.3" y="914.2" font-size="22.6" text-anchor="end" textLength="176.8" lengthAdjust="spacingAndGlyphs">GOBP_cell_cycle</text>
<path d="M1769.1 695.3H1776.4M1769.1 718.8H1776.4M1769.1 742.3H1776.4M1769.1 765.8H1776.4M1769.1 789.3H1776.4M1769.1 812.8H1776.4M1769.1 836.3H1776.4M1769.1 859.8H1776.4M1769.1 883.3H1776.4M1769.1 906.8H1776.4" stroke="#808285" stroke-width="1.1" fill="none"/>
<path d="M1776.4 675.6 L1776.4 925 L2146.8 925" fill="none" stroke="#414042" stroke-width="1.3"/>
<path d="M1829.2 925V931.7M1935.1 925V931.7M2041 925V931.7M2146.9 925V931.7" stroke="#414042" stroke-width="1.2" fill="none"/>
<path d="M1787.1 925V929M1797.3 925V929M1805.7 925V929M1812.8 925V929M1818.9 925V929M1824.4 925V929M1861.1 925V929M1879.7 925V929M1893 925V929M1903.2 925V929M1911.6 925V929M1918.7 925V929M1924.8 925V929M1930.3 925V929M1967 925V929M1985.6 925V929M1998.9 925V929M2009.1 925V929M2017.5 925V929M2024.6 925V929M2030.7 925V929M2036.2 925V929M2072.9 925V929M2091.5 925V929M2104.8 925V929M2115 925V929M2123.4 925V929M2130.5 925V929M2136.6 925V929M2142.1 925V929" stroke="#414042" stroke-width="0.8" fill="none"/>
<text x="1801.2" y="965.8" font-size="23.5" textLength="51.5" lengthAdjust="spacingAndGlyphs">10<tspan dy="-10.8" font-size="15.5">−60</tspan><tspan dy="10.8">&#8203;</tspan></text>
<text x="1907.1" y="965.8" font-size="23.5" textLength="51.5" lengthAdjust="spacingAndGlyphs">10<tspan dy="-10.8" font-size="15.5">−40</tspan><tspan dy="10.8">&#8203;</tspan></text>
<text x="2013" y="965.8" font-size="23.5" textLength="51" lengthAdjust="spacingAndGlyphs">10<tspan dy="-10.8" font-size="15.5">−20</tspan><tspan dy="10.8">&#8203;</tspan></text>
<text x="2132.1" y="965.8" font-size="23.5" textLength="34.5" lengthAdjust="spacingAndGlyphs">10<tspan dy="-10.8" font-size="15.5">0</tspan><tspan dy="10.8">&#8203;</tspan></text>
<text x="1857.7" y="1002.8" font-size="25" textLength="209.1" lengthAdjust="spacingAndGlyphs">Adjusted <tspan font-style="italic">P</tspan> value</text>
<text transform="translate(11.1 1073.6) scale(1.173 1)" font-size="39.5" font-weight="bold" stroke="#231f20" stroke-width="0.4">g</text>
<rect x="324.3" y="1325.6" width="26.6" height="45.9" fill="#fff" stroke="#231f20" stroke-width="1.1"/>
<rect x="369.8" y="1331.5" width="26.6" height="40" fill="#808285" stroke="#231f20" stroke-width="1.1"/>
<rect x="415.3" y="1251" width="26.4" height="120.5" fill="#fff" stroke="#231f20" stroke-width="1.1"/>
<rect x="460.6" y="1193.2" width="26.2" height="178.3" fill="#808285" stroke="#231f20" stroke-width="1.1"/>
<line x1="205.2" y1="1371.5" x2="503.7" y2="1371.5" stroke="#6d6e71" stroke-width="1.4"/>
<line x1="217.1" y1="1128.1" x2="217.1" y2="1403.7" stroke="#414042" stroke-width="1.3"/>
<path d="M205.2 1128.1H217.1M205.2 1189.3H217.1M205.2 1250.4H217.1M205.2 1311H217.1" stroke="#414042" stroke-width="1.3" fill="none"/>
<text x="192" y="1135.5" font-size="23.5" text-anchor="end" textLength="28.4" lengthAdjust="spacingAndGlyphs">80</text>
<text x="192" y="1196.7" font-size="23.5" text-anchor="end" textLength="28.4" lengthAdjust="spacingAndGlyphs">60</text>
<text x="192" y="1257.8" font-size="23.5" text-anchor="end" textLength="28.4" lengthAdjust="spacingAndGlyphs">40</text>
<text x="192" y="1318.4" font-size="23.5" text-anchor="end" textLength="28.4" lengthAdjust="spacingAndGlyphs">20</text>
<text x="192" y="1378.9" font-size="23.5" text-anchor="end" textLength="14.2" lengthAdjust="spacingAndGlyphs">0</text>
<text font-size="26.8" text-anchor="middle" textLength="197.6" lengthAdjust="spacingAndGlyphs" transform="translate(142.9 1265.8) rotate(-90)">Cytotoxicity (%)</text>
<path d="M246.9 1364.7V1371.5M239.5 1364.7H254.2M239.5 1371.5H254.2" stroke="#231f20" stroke-width="1.2" fill="none"/>
<path d="M289.1 1374.2V1376.1M285.1 1374.2H293.1M285.1 1376.1H293.1" stroke="#231f20" stroke-width="1.2" fill="none"/>
<path d="M337.7 1311.5V1336.6M330.3 1311.5H345M330.3 1336.6H345" stroke="#231f20" stroke-width="1.2" fill="none"/>
<path d="M383 1321.4V1336.6M376.1 1321.4H389.9M376.1 1336.6H389.9" stroke="#231f20" stroke-width="1.2" fill="none"/>
<path d="M428.5 1238.9V1259.6M421.1 1238.9H435.8M421.1 1259.6H435.8" stroke="#231f20" stroke-width="1.2" fill="none"/>
<path d="M473.8 1184.4V1197.2M466.9 1184.4H480.7M466.9 1197.2H480.7" stroke="#231f20" stroke-width="1.2" fill="none"/>
<path d="M246.9 1337.7h0M237.3 1371.9h0M244.1 1374.2h0M237.3 1383.4h0M249.6 1382.1h0M256.6 1382.1h0M282.6 1363.2h0M301.9 1357.2h0M292.2 1372.8h0M301.9 1370.2h0M282.6 1386.2h0M301.9 1382.5h0M337.7 1265.6h0M327.6 1326.9h0M337.7 1323.8h0M347.4 1334.8h0M337.3 1338.5h0M337.3 1354.6h0M383 1295.7h0M373.4 1323.4h0M392.7 1328h0M383 1338.5h0M392.7 1340.3h0M373.4 1348.9h0M438 1220.2h0M418.4 1228.8h0M438 1237.9h0M418.4 1255.6h0M438 1262.9h0M428.1 1289.3h0M463.9 1171.9h0M483.5 1175.2h0M463.9 1184.4h0M463.9 1196.9h0M483.5 1204.9h0M463.9 1212.8h0" stroke="#231f20" stroke-width="11.4" stroke-linecap="round" fill="none"/>
<path d="M428.5 1222 L428.5 1151.9 L473.8 1151.9 L473.8 1167.9" fill="none" stroke="#58595b" stroke-width="1.2"/>
<text x="451.8" y="1150.1" font-size="34" text-anchor="middle" textLength="41.3" lengthAdjust="spacingAndGlyphs">***</text>
<text x="232.2" y="1411.9" font-size="22" textLength="31.5" lengthAdjust="spacingAndGlyphs">WT</text>
<text x="279.3" y="1411.9" font-size="22" textLength="29" lengthAdjust="spacingAndGlyphs">KO</text>
<text x="323.9" y="1411.9" font-size="22" textLength="31.7" lengthAdjust="spacingAndGlyphs">WT</text>
<text x="368.9" y="1411.9" font-size="22" textLength="28.9" lengthAdjust="spacingAndGlyphs">KO</text>
<text x="418" y="1411.9" font-size="22" textLength="31.6" lengthAdjust="spacingAndGlyphs">WT</text>
<text x="463.3" y="1411.9" font-size="22" textLength="29" lengthAdjust="spacingAndGlyphs">KO</text>
<line x1="326.7" y1="1422.7" x2="393.6" y2="1422.7" stroke="#231f20" stroke-width="1.1"/>
<line x1="421.1" y1="1422.7" x2="490.8" y2="1422.7" stroke="#231f20" stroke-width="1.1"/>
<text x="321.7" y="1453.6" font-size="25.5" textLength="80.7" lengthAdjust="spacingAndGlyphs">Foamy</text>
<text x="410.7" y="1453.6" font-size="25.5" textLength="79.6" lengthAdjust="spacingAndGlyphs">Foamy</text>
<text x="493.6" y="1440.7" font-size="16.5" textLength="13.4" lengthAdjust="spacingAndGlyphs">hI</text>
<text transform="translate(577.6 1072.5) scale(1.145 1)" font-size="39.5" font-weight="bold" stroke="#231f20" stroke-width="0.4">h</text>
<rect x="763.4" y="1140.7" width="50.4" height="231" fill="#fff" stroke="#414042" stroke-width="1.1"/>
<rect x="844.3" y="1147" width="50.4" height="224.7" fill="#8f9194" stroke="#414042" stroke-width="1.1"/>
<line x1="724" y1="1371.7" x2="924.2" y2="1371.7" stroke="#414042" stroke-width="1.3"/>
<line x1="734.7" y1="1125.1" x2="734.7" y2="1371.7" stroke="#414042" stroke-width="1.3"/>
<path d="M724 1137.8H734.7M724 1196.3H734.7M724 1254.8H734.7M724 1313.2H734.7M724 1371.7H734.7" stroke="#414042" stroke-width="1.3" fill="none"/>
<path d="M728.4 1167H734.7M728.4 1225.6H734.7M728.4 1284H734.7M728.4 1342.5H734.7" stroke="#414042" stroke-width="1.2" fill="none"/>
<text x="712.6" y="1145.2" font-size="23.5" text-anchor="end" textLength="77.4" lengthAdjust="spacingAndGlyphs">80,000</text>
<text x="712.6" y="1203.7" font-size="23.5" text-anchor="end" textLength="77.4" lengthAdjust="spacingAndGlyphs">60,000</text>
<text x="712.6" y="1262.2" font-size="23.5" text-anchor="end" textLength="77.4" lengthAdjust="spacingAndGlyphs">40,000</text>
<text x="712.6" y="1320.6" font-size="23.5" text-anchor="end" textLength="77.4" lengthAdjust="spacingAndGlyphs">20,000</text>
<text x="712.6" y="1379.1" font-size="23.5" text-anchor="end" textLength="14.2" lengthAdjust="spacingAndGlyphs">0</text>
<path d="M788.3 1135.8V1140.7M774.8 1135.8H801.8M774.8 1140.7H801.8" stroke="#231f20" stroke-width="1.2" fill="none"/>
<path d="M869.4 1142.4V1147M856.1 1142.4H882.8M856.1 1147H882.8" stroke="#231f20" stroke-width="1.2" fill="none"/>
<path d="M780.4 1132.4h0M796.3 1133h0M811.8 1136.3h0M780.4 1140h0M796.1 1141.1h0M788.3 1152.3h0M869.2 1133.6h0M845.8 1144.4h0M861.4 1144h0M877 1148.7h0M892.8 1147h0M845.8 1152.1h0" stroke="#231f20" stroke-width="8" stroke-linecap="round" fill="none"/>
<path d="M788 1117.6 L788 1103.1 L869.4 1103.1 L869.4 1119.4" fill="none" stroke="#414042" stroke-width="1.2"/>
<text x="814.7" y="1095" font-size="22" textLength="28.7" lengthAdjust="spacingAndGlyphs">NS</text>
<text font-size="26.8" text-anchor="middle" textLength="165" lengthAdjust="spacingAndGlyphs" transform="translate(602.2 1232.8) rotate(-90)">Dil oxLDL MFI</text>
<text x="767.5" y="1411.5" font-size="22" textLength="31.5" lengthAdjust="spacingAndGlyphs">WT</text>
<text x="854.6" y="1411.5" font-size="22" textLength="29" lengthAdjust="spacingAndGlyphs">KO</text>
<line x1="773.3" y1="1422.4" x2="877.8" y2="1422.4" stroke="#231f20" stroke-width="1.1"/>
<text x="762" y="1449.7" font-size="25.5" textLength="128.4" lengthAdjust="spacingAndGlyphs">Nonfoamy</text>
<rect x="1141.6" y="1152.1" width="51.1" height="219.6" fill="#fff" stroke="#414042" stroke-width="1.1"/>
<rect x="1222.5" y="1203.4" width="51.2" height="168.3" fill="#8f9194" stroke="#414042" stroke-width="1.1"/>
<line x1="1102.3" y1="1371.7" x2="1302.3" y2="1371.7" stroke="#808285" stroke-width="1.3"/>
<line x1="1113" y1="1125.1" x2="1113" y2="1371.7" stroke="#808285" stroke-width="1.3"/>
<path d="M1102.3 1182.7H1113M1102.3 1277.2H1113M1102.3 1371.7H1113" stroke="#808285" stroke-width="1.3" fill="none"/>
<path d="M1106.7 1135.6H1113M1106.7 1230.4H1113M1106.7 1324.4H1113" stroke="#808285" stroke-width="1.2" fill="none"/>
<text x="1089.8" y="1190.1" font-size="23.5" text-anchor="end" textLength="75.4" lengthAdjust="spacingAndGlyphs">10,000</text>
<text x="1089.8" y="1284.6" font-size="23.5" text-anchor="end" textLength="63.2" lengthAdjust="spacingAndGlyphs">5,000</text>
<text x="1089.8" y="1379.1" font-size="23.5" text-anchor="end" textLength="14.2" lengthAdjust="spacingAndGlyphs">0</text>
<path d="M1167.4 1148.4V1152.1M1153.9 1148.4H1180.9M1153.9 1152.1H1180.9" stroke="#231f20" stroke-width="1.2" fill="none"/>
<path d="M1248.1 1196.1V1207M1234.6 1196.1H1261.6M1234.6 1207H1261.6" stroke="#231f20" stroke-width="1.2" fill="none"/>
<path d="M1143.6 1152.7h0M1159.2 1146h0M1174.7 1151.8h0M1190.7 1149.4h0M1240.5 1195.4h0M1255.4 1192.3h0M1255.2 1201.8h0M1247.8 1216.5h0" stroke="#231f20" stroke-width="8" stroke-linecap="round" fill="none"/>
<path d="M1166.8 1131.4 L1166.8 1117.1 L1248.1 1117.1 L1248.1 1177.7" fill="none" stroke="#808285" stroke-width="1.2"/>
<text x="1206.8" y="1113.1" font-size="34" text-anchor="middle" textLength="59" lengthAdjust="spacingAndGlyphs">****</text>
<text font-size="26.8" text-anchor="middle" textLength="165" lengthAdjust="spacingAndGlyphs" transform="translate(998.8 1247.6) rotate(-90)">Dil oxLDL MFI</text>
<text x="1150.3" y="1411.5" font-size="22" textLength="31.5" lengthAdjust="spacingAndGlyphs">WT</text>
<text x="1237.5" y="1411.5" font-size="22" textLength="29" lengthAdjust="spacingAndGlyphs">KO</text>
<line x1="1157.5" y1="1422.4" x2="1260.2" y2="1422.4" stroke="#231f20" stroke-width="1.1"/>
<text x="1168.3" y="1449.7" font-size="25.5" textLength="82" lengthAdjust="spacingAndGlyphs">Foamy</text>
<text transform="translate(1363.3 1072.7) scale(1.501 1)" font-size="39.5" font-weight="bold" stroke="#231f20" stroke-width="0.4">i</text>
<rect x="1489.4" y="1146.4" width="50.7" height="224.5" fill="#fff" stroke="#414042" stroke-width="1.1"/>
<rect x="1570.1" y="1170.5" width="50.7" height="200.4" fill="#8f9194" stroke="#414042" stroke-width="1.1"/>
<line x1="1450" y1="1370.9" x2="1650.4" y2="1370.9" stroke="#414042" stroke-width="1.3"/>
<line x1="1460.7" y1="1124.4" x2="1460.7" y2="1370.9" stroke="#414042" stroke-width="1.3"/>
<path d="M1450 1141H1460.7M1450 1217.4H1460.7M1450 1294H1460.7M1450 1370.9H1460.7" stroke="#414042" stroke-width="1.3" fill="none"/>
<text x="1440.1" y="1148.4" font-size="23.5" text-anchor="end" textLength="26.4" lengthAdjust="spacingAndGlyphs">15</text>
<text x="1440.1" y="1224.8" font-size="23.5" text-anchor="end" textLength="26.4" lengthAdjust="spacingAndGlyphs">10</text>
<text x="1440.1" y="1301.4" font-size="23.5" text-anchor="end" textLength="14.2" lengthAdjust="spacingAndGlyphs">5</text>
<text x="1440.1" y="1378.3" font-size="23.5" text-anchor="end" textLength="14.2" lengthAdjust="spacingAndGlyphs">0</text>
<path d="M1514.5 1370.9V1381.4M1595.7 1370.9V1381.4" stroke="#414042" stroke-width="1.3" fill="none"/>
<path d="M1514.3 1142.3V1147.4M1501 1142.3H1527.7M1501 1147.4H1527.7" stroke="#231f20" stroke-width="1.2" fill="none"/>
<path d="M1595.7 1164.1V1173.1M1582.3 1164.1H1609M1582.3 1173.1H1609" stroke="#231f20" stroke-width="1.2" fill="none"/>
<path d="M1491.1 1139.8h0M1506.7 1144.3h0M1522.5 1139.6h0M1537.8 1145.8h0M1514.4 1153.7h0M1595.4 1150.3h0M1572.1 1174.7h0M1587.7 1170.5h0M1603.2 1173.8h0M1618.8 1173.4h0" stroke="#231f20" stroke-width="8" stroke-linecap="round" fill="none"/>
<path d="M1514.3 1125.4 L1514.3 1110.4 L1595.7 1110.4 L1595.7 1135.6" fill="none" stroke="#231f20" stroke-width="1.2"/>
<text x="1555.6" y="1106.6" font-size="34" text-anchor="middle" textLength="28.5" lengthAdjust="spacingAndGlyphs">**</text>
<text font-size="26.8" text-anchor="middle" textLength="255.5" lengthAdjust="spacingAndGlyphs" transform="translate(1389.2 1255) rotate(-90)">Effercytotic cells (%)</text>
<text x="1495" y="1412" font-size="22" textLength="31.5" lengthAdjust="spacingAndGlyphs">WT</text>
<text x="1582.6" y="1412" font-size="22" textLength="29" lengthAdjust="spacingAndGlyphs">KO</text>
<line x1="1500.7" y1="1425.3" x2="1605.4" y2="1425.3" stroke="#231f20" stroke-width="1.1"/>
<text x="1489.7" y="1452.4" font-size="25.5" textLength="128.5" lengthAdjust="spacingAndGlyphs">Nonfoamy</text>
<rect x="1816" y="1146.4" width="50.7" height="224.5" fill="#fff" stroke="#414042" stroke-width="1.1"/>
<rect x="1896.7" y="1186.1" width="51.1" height="184.8" fill="#8f9194" stroke="#414042" stroke-width="1.1"/>
<line x1="1776.8" y1="1370.9" x2="1976.8" y2="1370.9" stroke="#414042" stroke-width="1.3"/>
<line x1="1787.6" y1="1124.4" x2="1787.6" y2="1370.9" stroke="#414042" stroke-width="1.3"/>
<path d="M1776.8 1148H1787.6M1776.8 1203.8H1787.6M1776.8 1259.6H1787.6M1776.8 1315.4H1787.6M1776.8 1370.9H1787.6" stroke="#414042" stroke-width="1.3" fill="none"/>
<text x="1764.7" y="1155.4" font-size="23.5" text-anchor="end" textLength="28.4" lengthAdjust="spacingAndGlyphs">20</text>
<text x="1764.7" y="1211.2" font-size="23.5" text-anchor="end" textLength="26.4" lengthAdjust="spacingAndGlyphs">15</text>
<text x="1764.7" y="1267" font-size="23.5" text-anchor="end" textLength="26.4" lengthAdjust="spacingAndGlyphs">10</text>
<text x="1764.7" y="1322.8" font-size="23.5" text-anchor="end" textLength="14.2" lengthAdjust="spacingAndGlyphs">5</text>
<text x="1764.7" y="1378.3" font-size="23.5" text-anchor="end" textLength="14.2" lengthAdjust="spacingAndGlyphs">0</text>
<path d="M1840.9 1370.9V1381.4M1922.2 1370.9V1381.4" stroke="#414042" stroke-width="1.3" fill="none"/>
<path d="M1841.4 1143.8V1146.4M1828 1143.8H1854.7M1828 1146.4H1854.7" stroke="#231f20" stroke-width="1.2" fill="none"/>
<path d="M1922.1 1181V1187.4M1908.7 1181H1935.4M1908.7 1187.4H1935.4" stroke="#231f20" stroke-width="1.2" fill="none"/>
<path d="M1817.8 1145.8h0M1829.8 1142.4h0M1841 1144.7h0M1852.7 1142.3h0M1864.7 1149h0M1922.1 1175.8h0M1907.4 1181.7h0M1937.2 1182.5h0M1922.1 1186.1h0M1922.1 1195h0" stroke="#231f20" stroke-width="8" stroke-linecap="round" fill="none"/>
<path d="M1841.2 1128 L1841.2 1113.6 L1922.4 1113.6 L1922.4 1161.7" fill="none" stroke="#231f20" stroke-width="1.2"/>
<text x="1883.2" y="1109.9" font-size="34" text-anchor="middle" textLength="59" lengthAdjust="spacingAndGlyphs">****</text>
<text font-size="26.8" text-anchor="middle" textLength="255.5" lengthAdjust="spacingAndGlyphs" transform="translate(1714.9 1255) rotate(-90)">Effercytotic cells (%)</text>
<text x="1822.4" y="1412" font-size="22" textLength="31.5" lengthAdjust="spacingAndGlyphs">WT</text>
<text x="1909.5" y="1412" font-size="22" textLength="29" lengthAdjust="spacingAndGlyphs">KO</text>
<line x1="1828.1" y1="1425.3" x2="1932.3" y2="1425.3" stroke="#231f20" stroke-width="1.1"/>
<text x="1840.5" y="1452.4" font-size="25.5" textLength="81.7" lengthAdjust="spacingAndGlyphs">Foamy</text>
<text transform="translate(13.8 1520.5) scale(1.271 1)" font-size="39.5" font-weight="bold" stroke="#231f20" stroke-width="0.4">j</text>
<path d="M142.1 1625 L214.3 1624.6 L225.7 1623.4 L231.4 1621.2 L234.4 1614.3 L236.2 1598.4 L238 1575.6 L239.9 1552.8 L241.2 1542.5 L242.6 1552.8 L244.4 1575.6 L246.2 1598.4 L248.1 1614.3 L250.3 1622.3 L254.2 1624.6 L528.8 1625" fill="#f5a898" stroke="#e8282e" stroke-width="1.6" stroke-linejoin="round"/>
<path d="M142.1 1709 L213.2 1708.4 L221.2 1707.8 L225.7 1705.5 L229.8 1699.8 L233 1689.5 L236 1671.3 L238.9 1650.8 L241.7 1637.1 L243.3 1631.4 L244.6 1628.5 L246 1631.4 L247.4 1632.6 L250.8 1644 L254.2 1654.2 L257.2 1659.9 L259.9 1667.9 L264.5 1675.9 L269 1682.2 L272.4 1684.5 L274 1683.2 L275.9 1686.1 L280.4 1687.3 L285 1689.5 L287.3 1688.4 L289.5 1691.4 L294.1 1693.6 L298.6 1694.5 L300.5 1697.5 L303.2 1696.4 L307.8 1698.6 L312.3 1699.8 L321.4 1702.8 L330.6 1705 L339.7 1706.6 L348.8 1707.3 L357.9 1707.8 L369.3 1708.7 L376.1 1708.9 L528.8 1709" fill="#b8e1f7" stroke="#1fb3ea" stroke-width="1.6" stroke-linejoin="round"/>
<path d="M142.1 1793 L213.2 1792.3 L221.2 1791.2 L226.9 1787.7 L231.4 1780.9 L234.8 1770.7 L238.3 1754.7 L241.7 1734.2 L244.6 1719.4 L247.4 1713.2 L249 1712.5 L250.3 1720.5 L252.6 1718.2 L254.9 1727.3 L257.6 1734.2 L261 1741 L264.5 1742.2 L266.7 1751.3 L271.3 1754.7 L275.9 1757 L278.1 1755.4 L280.4 1758.1 L285 1758.8 L287.3 1757 L289.5 1759.7 L294.1 1761.5 L296.4 1759.7 L299.8 1763.4 L303.2 1763.8 L306.6 1765.6 L312.3 1762.7 L319.2 1766.1 L323.7 1768.4 L326 1773.4 L328.3 1770.7 L331.7 1769.5 L335.1 1772.5 L337.4 1771.1 L344.2 1775.2 L346.5 1777.5 L348.8 1774.1 L352.2 1778.6 L355.6 1774.1 L362.5 1778.6 L367 1780.9 L371.6 1786.1 L376.1 1790 L383 1791.6 L392.1 1792.3 L403.5 1792.8 L528.8 1793" fill="#fcd5a8" stroke="#f7941d" stroke-width="1.6" stroke-linejoin="round"/>
<path d="M142.1 1871.4 L230.3 1870.9 L235.3 1869.8 L238.3 1863 L240.5 1857.3 L242.8 1853.2 L245.1 1857.3 L247.4 1862.3 L250.8 1866.4 L255.3 1869.1 L262.2 1870.5 L278.1 1870.9 L294.1 1870.2 L303.2 1869.1 L312.3 1868.2 L319.2 1867.1 L323.7 1863 L330.6 1857.3 L335.1 1851.6 L339.7 1841.3 L344.2 1829.9 L348.8 1818.5 L350.6 1810.5 L352.2 1811.7 L354.5 1806 L357.9 1802.6 L360.2 1800.3 L362.5 1795.7 L364.7 1793 L367 1793.9 L369.3 1791.2 L371.1 1798 L373.4 1809.4 L376.1 1823.1 L378.4 1836.7 L380.7 1848.1 L383 1855 L386.4 1861.8 L392.1 1866.4 L398.9 1869.8 L408 1870.9 L528.8 1871.4" fill="#a3af96" stroke="#2c6b2f" stroke-width="1.8" stroke-linejoin="round"/>
<path d="M142.1 1872 L142.1 1540.3 L528.8 1540.3" fill="none" stroke="#231f20" stroke-width="1.3"/>
<line x1="528.8" y1="1540.3" x2="528.8" y2="1872" stroke="#808285" stroke-width="1.5"/>
<text x="518.4" y="1563.7" font-size="22.3" text-anchor="end" textLength="48.6" lengthAdjust="spacingAndGlyphs">FMO</text>
<text x="518.2" y="1649.2" font-size="22.3" text-anchor="end" textLength="103.2" lengthAdjust="spacingAndGlyphs">WT foamy</text>
<text x="518.2" y="1733.7" font-size="22.3" text-anchor="end" textLength="156.8" lengthAdjust="spacingAndGlyphs">Trem2<tspan dy="-8.9" font-size="14.7">−/−</tspan><tspan dy="8.9">&#8203;</tspan> foamy</text>
<text x="518.2" y="1815.5" font-size="22.3" text-anchor="end" textLength="121.5" lengthAdjust="spacingAndGlyphs">WT foamy +</text>
<text x="518.2" y="1843.1" font-size="22.3" text-anchor="end" textLength="128.3" lengthAdjust="spacingAndGlyphs">tunicamycin</text>
<path d="M171.5 1872V1879.7M309.4 1872V1879.7M393.7 1872V1879.7M461.6 1872V1879.7M527.7 1872V1879.7" stroke="#414042" stroke-width="1.2" fill="none"/>
<path d="M174.4 1872V1875.5M177.4 1872V1875.5M180.6 1872V1875.5M184 1872V1875.5M187.7 1872V1875.5M191.5 1872V1875.5M196.1 1872V1875.5M200.7 1872V1875.5M206.3 1872V1875.5M214.3 1872V1875.5M224.6 1872V1875.5M257.6 1872V1875.5M266.7 1872V1875.5M273.6 1872V1875.5M281.6 1872V1875.5M289.5 1872V1875.5M300.9 1872V1875.5M334.7 1872V1875.5M349.6 1872V1875.5M360.1 1872V1875.5M368.3 1872V1875.5M375 1872V1875.5M380.6 1872V1875.5M385.5 1872V1875.5M389.8 1872V1875.5M414.1 1872V1875.5M426.1 1872V1875.5M434.6 1872V1875.5M441.2 1872V1875.5M446.5 1872V1875.5M451.1 1872V1875.5M455 1872V1875.5M458.5 1872V1875.5M481.5 1872V1875.5M493.1 1872V1875.5M501.4 1872V1875.5M507.8 1872V1875.5M513 1872V1875.5M517.5 1872V1875.5M521.3 1872V1875.5M524.7 1872V1875.5" stroke="#414042" stroke-width="0.9" fill="none"/>
<rect x="231.4" y="1872" width="18.2" height="3.2" fill="#231f20" stroke="none" stroke-width="0"/>
<rect x="238.9" y="1872" width="3" height="6" fill="#231f20" stroke="none" stroke-width="0"/>
<text x="183.7" y="1915.3" font-size="23" text-anchor="middle">−10<tspan dy="-10.6" font-size="15.2">4</tspan><tspan dy="10.6">&#8203;</tspan></text>
<text x="249" y="1915.3" font-size="23.5" text-anchor="middle" textLength="14.2" lengthAdjust="spacingAndGlyphs">0</text>
<text x="320.6" y="1915.3" font-size="23" text-anchor="middle">10<tspan dy="-10.6" font-size="15.2">4</tspan><tspan dy="10.6">&#8203;</tspan></text>
<text x="403.7" y="1915.3" font-size="23" text-anchor="middle">10<tspan dy="-10.6" font-size="15.2">5</tspan><tspan dy="10.6">&#8203;</tspan></text>
<text x="472.2" y="1915.3" font-size="23" text-anchor="middle">10<tspan dy="-10.6" font-size="15.2">6</tspan><tspan dy="10.6">&#8203;</tspan></text>
<text x="526" y="1915.3" font-size="23" text-anchor="middle">10<tspan dy="-10.6" font-size="15.2">7</tspan><tspan dy="10.6">&#8203;</tspan></text>
<text x="254.6" y="1955.3" font-size="25" textLength="161" lengthAdjust="spacingAndGlyphs">sXBP1-AF647</text>
<line x1="672" y1="1831.5" x2="955.4" y2="1831.5" stroke="#414042" stroke-width="1.3"/>
<line x1="683.6" y1="1560.7" x2="683.6" y2="1831.5" stroke="#414042" stroke-width="1.3"/>
<path d="M672 1560.7H683.6M672 1628.3H683.6M672 1695.9H683.6M672 1763.5H683.6" stroke="#414042" stroke-width="1.3" fill="none"/>
<path d="M676.6 1594.5H683.6M676.6 1662.1H683.6M676.6 1729.7H683.6M676.6 1797.3H683.6" stroke="#414042" stroke-width="1.2" fill="none"/>
<text x="658.6" y="1568.1" font-size="23.5" text-anchor="end" textLength="28.4" lengthAdjust="spacingAndGlyphs">40</text>
<text x="658.6" y="1635.7" font-size="23.5" text-anchor="end" textLength="28.4" lengthAdjust="spacingAndGlyphs">30</text>
<text x="658.6" y="1703.3" font-size="23.5" text-anchor="end" textLength="28.4" lengthAdjust="spacingAndGlyphs">20</text>
<text x="658.6" y="1770.9" font-size="23.5" text-anchor="end" textLength="26.4" lengthAdjust="spacingAndGlyphs">10</text>
<text x="658.6" y="1838.9" font-size="23.5" text-anchor="end" textLength="14.2" lengthAdjust="spacingAndGlyphs">0</text>
<text font-size="26.8" text-anchor="middle" textLength="118.3" lengthAdjust="spacingAndGlyphs" transform="translate(614.8 1696.7) rotate(-90)">XBP1<tspan dy="-12.3" font-size="19.3">hi</tspan><tspan dy="12.3">&#8203;</tspan> (%)</text>
<path d="M724.6 1777.6V1785M714.1 1777.6H735.1M714.1 1785H735.1M704.1 1781.4H745.1" stroke="#414042" stroke-width="1.2" fill="none"/>
<path d="M787.5 1766.6V1783.5M777 1766.6H798M777 1783.5H798M767 1774.9H808" stroke="#414042" stroke-width="1.2" fill="none"/>
<path d="M849.4 1747.6V1760.3M838.9 1747.6H859.9M838.9 1760.3H859.9M828.9 1754H869.9" stroke="#414042" stroke-width="1.2" fill="none"/>
<path d="M912.5 1679.4V1712.8M902 1679.4H923M902 1712.8H923M892 1695.9H933" stroke="#414042" stroke-width="1.2" fill="none"/>
<path d="M729.8 1767.7h0M719.3 1777h0M740.4 1778.7h0M708.9 1784.4h0M729.8 1785.7h0M719.3 1796h0M771.7 1751.9h0M787.1 1760.7h0M802.3 1756.5h0M771.7 1796h0M787.1 1793.1h0M802.3 1793.1h0M849.4 1729.7h0M849.4 1741.1h0M834.4 1760.1h0M849.4 1761.4h0M865.2 1761.8h0M834.4 1771.9h0M911.7 1617.5h0M912.5 1691.7h0M896.9 1709h0M912.5 1710.7h0M928 1709h0M911.7 1737.1h0" stroke="#231f20" stroke-width="11.8" stroke-linecap="round" fill="none"/>
<path d="M724.8 1751.2 L724.8 1585.2 L787.5 1585.2 L787.5 1735.8" fill="none" stroke="#414042" stroke-width="1.1"/>
<path d="M849.8 1713.8 L849.8 1585.2 L912.1 1585.2 L912.1 1601.7" fill="none" stroke="#414042" stroke-width="1.1"/>
<text x="741.7" y="1572.1" font-size="22" textLength="28.9" lengthAdjust="spacingAndGlyphs">NS</text>
<text x="880.8" y="1584.6" font-size="34" text-anchor="middle" textLength="28.5" lengthAdjust="spacingAndGlyphs">**</text>
<text x="712.1" y="1856.8" font-size="22" textLength="30.4" lengthAdjust="spacingAndGlyphs">WT</text>
<text x="774.4" y="1856.8" font-size="22" textLength="28.3" lengthAdjust="spacingAndGlyphs">KO</text>
<text x="837.1" y="1856.8" font-size="22" textLength="30.7" lengthAdjust="spacingAndGlyphs">WT</text>
<text x="904.1" y="1856.8" font-size="22" textLength="28.5" lengthAdjust="spacingAndGlyphs">KO</text>
<line x1="839.2" y1="1865.7" x2="932.6" y2="1865.7" stroke="#231f20" stroke-width="1.1"/>
<text x="851.3" y="1890.6" font-size="25.5" textLength="80.5" lengthAdjust="spacingAndGlyphs">Foamy</text>
<text transform="translate(1011.5 1525.3) scale(1.107 1)" font-size="39.5" font-weight="bold" stroke="#231f20" stroke-width="0.4">k</text>
<rect x="1132.5" y="1767.6" width="29.1" height="64" fill="#fff" stroke="#414042" stroke-width="1.1"/>
<rect x="1181.5" y="1675.7" width="28.7" height="155.9" fill="#b3b5b8" stroke="#414042" stroke-width="1.1"/>
<rect x="1262" y="1791.1" width="29.4" height="40.5" fill="#fff" stroke="#414042" stroke-width="1.1"/>
<rect x="1311" y="1807.3" width="28.9" height="24.3" fill="#b3b5b8" stroke="#414042" stroke-width="1.1"/>
<line x1="1104.4" y1="1831.6" x2="1358.5" y2="1831.6" stroke="#414042" stroke-width="1.3"/>
<line x1="1114.6" y1="1588.7" x2="1114.6" y2="1831.6" stroke="#414042" stroke-width="1.3"/>
<path d="M1104.4 1588.7H1114.6M1104.4 1649.3H1114.6M1104.4 1709.7H1114.6M1104.4 1770.6H1114.6" stroke="#414042" stroke-width="1.3" fill="none"/>
<text x="1090.9" y="1596.1" font-size="23.5" text-anchor="end" textLength="28.4" lengthAdjust="spacingAndGlyphs">80</text>
<text x="1090.9" y="1656.7" font-size="23.5" text-anchor="end" textLength="28.4" lengthAdjust="spacingAndGlyphs">60</text>
<text x="1090.9" y="1717.1" font-size="23.5" text-anchor="end" textLength="28.4" lengthAdjust="spacingAndGlyphs">40</text>
<text x="1090.9" y="1778" font-size="23.5" text-anchor="end" textLength="28.4" lengthAdjust="spacingAndGlyphs">20</text>
<text x="1090.9" y="1839" font-size="23.5" text-anchor="end" textLength="14.2" lengthAdjust="spacingAndGlyphs">0</text>
<path d="M1147.3 1831.6V1841.6M1195.9 1831.6V1841.6M1276.6 1831.6V1841.6M1325.4 1831.6V1841.6" stroke="#414042" stroke-width="1.3" fill="none"/>
<path d="M1147.3 1752.8V1778.8M1139.3 1752.8H1155.3M1139.3 1778.8H1155.3" stroke="#231f20" stroke-width="1.2" fill="none"/>
<path d="M1195.9 1665.4V1685.9M1187.9 1665.4H1203.9M1187.9 1685.9H1203.9" stroke="#231f20" stroke-width="1.2" fill="none"/>
<path d="M1276.6 1779.2V1799.3M1268.6 1779.2H1284.6M1268.6 1799.3H1284.6" stroke="#231f20" stroke-width="1.2" fill="none"/>
<path d="M1325.4 1799.3V1812.2M1317.4 1799.3H1333.4M1317.4 1812.2H1333.4" stroke="#231f20" stroke-width="1.2" fill="none"/>
<path d="M1135.7 1740.4h0M1158.9 1739.7h0M1147.3 1754.5h0M1135.7 1767.2h0M1158.9 1767.2h0M1147.3 1824.7h0M1195.5 1631.6h0M1184.3 1672.2h0M1191.7 1681.2h0M1207.5 1681.7h0M1184.3 1690.1h0M1199.7 1689h0M1276.8 1747.6h0M1265.6 1789.8h0M1276.8 1785.2h0M1288.4 1791.1h0M1276.8 1800.4h0M1276.8 1821.5h0M1337 1788.3h0M1314.2 1792.6h0M1325.4 1793.6h0M1314.2 1821.7h0M1325.4 1818.3h0M1337 1821.5h0" stroke="#231f20" stroke-width="11.4" stroke-linecap="round" fill="none"/>
<path d="M1147.3 1718.6 L1147.3 1566.5 L1191 1566.5 L1191 1613" fill="none" stroke="#58595b" stroke-width="1.2"/>
<path d="M1200.1 1613 L1200.1 1566.5 L1325.4 1566.5 L1325.4 1749.7" fill="none" stroke="#58595b" stroke-width="1.2"/>
<text x="1171.4" y="1565.3" font-size="34" text-anchor="middle" textLength="59" lengthAdjust="spacingAndGlyphs">****</text>
<text x="1265" y="1565.3" font-size="34" text-anchor="middle" textLength="59" lengthAdjust="spacingAndGlyphs">****</text>
<text font-size="26.8" text-anchor="middle" textLength="195.3" lengthAdjust="spacingAndGlyphs" transform="translate(1036.4 1709.7) rotate(-90)">Cytotoxicity (%)</text>
<text x="1134.6" y="1870.7" font-size="22" textLength="32.1" lengthAdjust="spacingAndGlyphs">WT</text>
<text x="1180" y="1870.7" font-size="22" textLength="28.6" lengthAdjust="spacingAndGlyphs">KO</text>
<text x="1266" y="1870.7" font-size="22" textLength="32.3" lengthAdjust="spacingAndGlyphs">WT</text>
<text x="1311" y="1870.7" font-size="22" textLength="28.5" lengthAdjust="spacingAndGlyphs">KO</text>
<line x1="1137.4" y1="1879.6" x2="1203.9" y2="1879.6" stroke="#231f20" stroke-width="1.1"/>
<line x1="1269.8" y1="1879.6" x2="1338.5" y2="1879.6" stroke="#231f20" stroke-width="1.1"/>
<text x="1132.9" y="1905.6" font-size="25.5" textLength="79.9" lengthAdjust="spacingAndGlyphs">Foamy</text>
<text x="1231.8" y="1905.6" font-size="25.5" textLength="144.7" lengthAdjust="spacingAndGlyphs">Foamy+PBA</text>
<text transform="translate(1438.3 1523.8) scale(1.627 1)" font-size="39.5" font-weight="bold" stroke="#231f20" stroke-width="0.4">l</text>
<text x="1524.1" y="1548.1" font-size="26" textLength="485.5" lengthAdjust="spacingAndGlyphs">GOBP_regulation_of_cholesterol_efflux</text>
<path d="M1567.6 1565.1V1680.7M1648.3 1565.1V1680.7M1729.5 1565.1V1680.7M1810.5 1565.1V1680.7M1891.2 1565.1V1680.7M1972.9 1565.1V1680.7" stroke="#eeeeee" stroke-width="1" fill="none"/>
<path d="M1547.8 1600.5H1986.3M1547.8 1618.7H1986.3M1547.8 1636.8H1986.3M1547.8 1655H1986.3M1547.8 1673H1986.3" stroke="#eeeeee" stroke-width="1" fill="none"/>
<path d="M1540.1 1600.5H1547.8M1540.1 1618.7H1547.8M1540.1 1636.8H1547.8M1540.1 1655H1547.8M1540.1 1673H1547.8" stroke="#58595b" stroke-width="1" fill="none"/>
<line x1="1540.1" y1="1582.5" x2="1986.3" y2="1582.5" stroke="#231f20" stroke-width="0.9"/>
<text x="1524.5" y="1606.5" font-size="18" text-anchor="end" textLength="33" lengthAdjust="spacingAndGlyphs">−0.1</text>
<text x="1524.5" y="1624.7" font-size="18" text-anchor="end" textLength="36.5" lengthAdjust="spacingAndGlyphs">−0.2</text>
<text x="1524.5" y="1642.8" font-size="18" text-anchor="end" textLength="36.7" lengthAdjust="spacingAndGlyphs">−0.3</text>
<text x="1524.5" y="1661" font-size="18" text-anchor="end" textLength="36.9" lengthAdjust="spacingAndGlyphs">−0.4</text>
<text x="1524.5" y="1679" font-size="18" text-anchor="end" textLength="36.7" lengthAdjust="spacingAndGlyphs">−0.5</text>
<text x="1524.5" y="1588.5" font-size="18" text-anchor="end" textLength="10.9" lengthAdjust="spacingAndGlyphs">0</text>
<path d="M1567.6 1681.6V1688M1648.3 1681.6V1688M1729.5 1681.6V1688M1810.5 1681.6V1688M1891.2 1681.6V1688M1972.9 1681.6V1688" stroke="#58595b" stroke-width="1" fill="none"/>
<text x="1567.6" y="1710" font-size="18" text-anchor="middle" textLength="10.9" lengthAdjust="spacingAndGlyphs">0</text>
<text x="1648.5" y="1710" font-size="18" text-anchor="middle" textLength="51" lengthAdjust="spacingAndGlyphs">5,000</text>
<text x="1729" y="1710" font-size="18" text-anchor="middle" textLength="61" lengthAdjust="spacingAndGlyphs">10,000</text>
<text x="1810.5" y="1710" font-size="18" text-anchor="middle" textLength="58.7" lengthAdjust="spacingAndGlyphs">15,000</text>
<text x="1891.3" y="1710" font-size="18" text-anchor="middle" textLength="63.1" lengthAdjust="spacingAndGlyphs">20,000</text>
<text x="1972.2" y="1710" font-size="18" text-anchor="middle" textLength="61.8" lengthAdjust="spacingAndGlyphs">25,000</text>
<path d="M1567.6 1582.5 L1574.9 1586.2 L1575.8 1571.2 L1594.5 1580.2 L1595.1 1570.1 L1619.9 1581.6 L1620.4 1574.8 L1639.1 1583.8 L1642.8 1574.8 L1654.7 1580.7 L1656.9 1572.8 L1673.1 1580.3 L1674 1578.5 L1698.2 1589 L1698.7 1587.7 L1829.8 1646.2 L1830.7 1644.9 L1838 1648.6 L1840.8 1645.5 L1887.6 1666.9 L1888.1 1662.9 L1911.1 1673.3 L1911.4 1667.8 L1928.8 1675.7 L1929.2 1668.4 L1936.7 1671.9 L1937.1 1663.3 L1939.3 1663.8 L1939.9 1655.9 L1944.4 1658.1 L1945 1648 L1955.1 1652.8 L1955.4 1640.9 L1960 1642.7 L1960.4 1629 L1961.9 1629.3 L1962.2 1614.6 L1966.5 1616.1 L1966.8 1582.5" fill="none" stroke="#262a7c" stroke-width="1.8" stroke-linejoin="round"/>
<path d="M1575.8 1576.1V1589M1595.1 1576.1V1589M1620.4 1576.1V1589M1640.6 1576.1V1589M1642.8 1576.1V1589M1654.7 1576.1V1589M1656.5 1576.1V1589M1673.6 1576.1V1589M1698.7 1576.1V1589M1765.6 1576.1V1589M1775.7 1576.1V1589M1790.7 1576.1V1589M1797.7 1576.1V1589M1799.9 1576.1V1589M1830.2 1576.1V1589M1838 1576.1V1589M1839 1576.1V1589M1839.9 1576.1V1589M1887.9 1576.1V1589M1911.4 1576.1V1589M1928.8 1576.1V1589M1936.7 1576.1V1589M1938.9 1576.1V1589M1940.8 1576.1V1589M1944.8 1576.1V1589M1955.1 1576.1V1589M1960 1576.1V1589M1961.3 1576.1V1589M1962.4 1576.1V1589M1966.5 1576.1V1589" stroke="#262a7c" stroke-width="1.4" fill="none"/>
<text font-size="23" text-anchor="middle" textLength="118.3" lengthAdjust="spacingAndGlyphs" transform="translate(1465.8 1635.3) rotate(-90)">Trem2<tspan dy="-13.3" font-size="15.2">−/−</tspan><tspan dy="13.3">&#8203;</tspan> ES</text>
<path d="M1559.7 1741.2V1842M1644.1 1741.2V1842M1728.4 1741.2V1842M1813.3 1741.2V1842M1897.7 1741.2V1842M1982.6 1741.2V1842" stroke="#eeeeee" stroke-width="1" fill="none"/>
<path d="M1539.1 1766.3H1995.8M1539.1 1793.5H1995.8" stroke="#eeeeee" stroke-width="1" fill="none"/>
<path d="M1531.4 1766.3H1539.1M1531.4 1793.5H1539.1" stroke="#58595b" stroke-width="1" fill="none"/>
<line x1="1531.4" y1="1820.6" x2="1995.8" y2="1820.6" stroke="#231f20" stroke-width="0.9"/>
<text x="1524.5" y="1772.4" font-size="18" text-anchor="end" textLength="26.6" lengthAdjust="spacingAndGlyphs">0.4</text>
<text x="1524.5" y="1799.6" font-size="18" text-anchor="end" textLength="26.4" lengthAdjust="spacingAndGlyphs">0.2</text>
<text x="1524.5" y="1826.7" font-size="18" text-anchor="end" textLength="10.9" lengthAdjust="spacingAndGlyphs">0</text>
<path d="M1559.7 1842.6V1849.4M1644.1 1842.6V1849.4M1728.4 1842.6V1849.4M1813.3 1842.6V1849.4M1897.7 1842.6V1849.4M1982.6 1842.6V1849.4" stroke="#58595b" stroke-width="1" fill="none"/>
<text x="1559.3" y="1871.1" font-size="18" text-anchor="middle" textLength="10.9" lengthAdjust="spacingAndGlyphs">0</text>
<text x="1643.5" y="1871.1" font-size="18" text-anchor="middle" textLength="51" lengthAdjust="spacingAndGlyphs">5,000</text>
<text x="1727.5" y="1871.1" font-size="18" text-anchor="middle" textLength="61" lengthAdjust="spacingAndGlyphs">10,000</text>
<text x="1812.6" y="1871.1" font-size="18" text-anchor="middle" textLength="57.4" lengthAdjust="spacingAndGlyphs">15,000</text>
<text x="1897.1" y="1871.1" font-size="18" text-anchor="middle" textLength="62.4" lengthAdjust="spacingAndGlyphs">20,000</text>
<text x="1982" y="1871.1" font-size="18" text-anchor="middle" textLength="61.4" lengthAdjust="spacingAndGlyphs">25,000</text>
<path d="M1559.7 1820.6 L1559.9 1794.4 L1560.6 1776 L1561.2 1760.4 L1567.2 1762.6 L1567.9 1753.5 L1579.5 1757.3 L1580.4 1750.7 L1599.7 1757.3 L1601.5 1748.5 L1612.5 1752.6 L1615.3 1745.8 L1622.6 1748.5 L1623.5 1745.2 L1643.7 1752.2 L1644.6 1749.8 L1669.9 1758.6 L1670.7 1757.1 L1699.7 1766.9 L1700.6 1765.6 L1713.4 1770.2 L1717.1 1768.7 L1730.8 1773.7 L1734.5 1773.8 L1811.5 1799.3 L1846.7 1810.5 L1847.2 1809.1 L1858.2 1812.7 L1861 1810.5 L1872.5 1814.6 L1873.3 1812.4 L1884.5 1816.4 L1885.2 1814 L1898.2 1818.2 L1898.9 1815.8 L1965 1838 L1965.5 1829.6 L1970.1 1830.5 L1970.7 1819.5 L1974.7 1820.6" fill="none" stroke="#ed1c24" stroke-width="1.8" stroke-linejoin="round"/>
<path d="M1559.7 1814.9V1826.5M1560.8 1814.9V1826.5M1567.6 1814.9V1826.5M1579.9 1814.9V1826.5M1600.2 1814.9V1826.5M1601.3 1814.9V1826.5M1613.1 1814.9V1826.5M1614.9 1814.9V1826.5M1623 1814.9V1826.5M1644.1 1814.9V1826.5M1670.3 1814.9V1826.5M1700.2 1814.9V1826.5M1714 1814.9V1826.5M1715.2 1814.9V1826.5M1716.7 1814.9V1826.5M1732.1 1814.9V1826.5M1733.8 1814.9V1826.5M1811.1 1814.9V1826.5M1846.9 1814.9V1826.5M1858.8 1814.9V1826.5M1860.6 1814.9V1826.5M1872.5 1814.9V1826.5M1884.8 1814.9V1826.5M1898.6 1814.9V1826.5M1965.9 1814.9V1826.5M1970.5 1814.9V1826.5" stroke="#ed1c24" stroke-width="1.4" fill="none"/>
<text font-size="23" text-anchor="middle" textLength="138" lengthAdjust="spacingAndGlyphs" transform="translate(1467.6 1794.7) rotate(-90)">Trem2 WT ES</text>
<text x="1523.6" y="1905.4" font-size="25.5" textLength="79.8" lengthAdjust="spacingAndGlyphs">Foamy</text>
<text x="1933.1" y="1905.4" font-size="25.5" textLength="136.5" lengthAdjust="spacingAndGlyphs">Non-foamy</text>
<text transform="translate(11.6 2025.4) scale(1.099 1)" font-size="39.5" font-weight="bold" stroke="#231f20" stroke-width="0.4">m</text>
<text x="112.7" y="2040" font-size="21.8" textLength="561.1" lengthAdjust="spacingAndGlyphs">Reactome_NR1H3_NR1H2_regulate_gene_expression_</text>
<text x="167.5" y="2067.4" font-size="21.8" textLength="450.7" lengthAdjust="spacingAndGlyphs">linked_to_cholesterol_transport_and_efflux</text>
<path d="M185.1 2092.1V2210M267.8 2092.1V2210M350.3 2092.1V2210M433.3 2092.1V2210M515.7 2092.1V2210M598.5 2092.1V2210" stroke="#eeeeee" stroke-width="1" fill="none"/>
<path d="M165.1 2132.1H611.8M165.1 2160.7H611.8M165.1 2189.3H611.8" stroke="#eeeeee" stroke-width="1" fill="none"/>
<path d="M157.5 2132.1H165.1M157.5 2160.7H165.1M157.5 2189.3H165.1" stroke="#58595b" stroke-width="1" fill="none"/>
<line x1="157.5" y1="2103.7" x2="611.8" y2="2103.7" stroke="#231f20" stroke-width="0.9"/>
<text x="145.5" y="2135.6" font-size="17.5" text-anchor="end" textLength="36.4" lengthAdjust="spacingAndGlyphs">−0.2</text>
<text x="145.5" y="2164.2" font-size="17.5" text-anchor="end" textLength="36.6" lengthAdjust="spacingAndGlyphs">−0.4</text>
<text x="145.5" y="2192.8" font-size="17.5" text-anchor="end" textLength="36.6" lengthAdjust="spacingAndGlyphs">−0.6</text>
<text x="145.5" y="2107.2" font-size="17.5" text-anchor="end" textLength="10.6" lengthAdjust="spacingAndGlyphs">0</text>
<path d="M185.1 2209.5V2216.5M267.8 2209.5V2216.5M350.3 2209.5V2216.5M433.3 2209.5V2216.5M515.7 2209.5V2216.5M598.5 2209.5V2216.5" stroke="#58595b" stroke-width="1" fill="none"/>
<text x="184.1" y="2240" font-size="17.5" text-anchor="middle" textLength="10.6" lengthAdjust="spacingAndGlyphs">0</text>
<text x="266.9" y="2240" font-size="17.5" text-anchor="middle" textLength="51" lengthAdjust="spacingAndGlyphs">5,000</text>
<text x="349.5" y="2240" font-size="17.5" text-anchor="middle" textLength="61" lengthAdjust="spacingAndGlyphs">10,000</text>
<text x="432.4" y="2240" font-size="17.5" text-anchor="middle" textLength="58.6" lengthAdjust="spacingAndGlyphs">15,000</text>
<text x="515.1" y="2240" font-size="17.5" text-anchor="middle" textLength="62" lengthAdjust="spacingAndGlyphs">20,000</text>
<text x="598.6" y="2240" font-size="17.5" text-anchor="middle" textLength="57.8" lengthAdjust="spacingAndGlyphs">25000</text>
<path d="M185.1 2103.7 L201.1 2109.7 L202.1 2104.1 L272.2 2128.5 L276.2 2123.7 L326.2 2141.5 L332.2 2141.7 L333.2 2140.5 L342.2 2144.1 L449.1 2181.1 L450.1 2181.7 L460.1 2184.5 L461.7 2183.7 L486.1 2193.1 L488.1 2192.1 L501.1 2197.1 L502.5 2195.5 L509.1 2198.1 L511.7 2194.7 L523.1 2199.1 L524.1 2196.7 L543.1 2203.7 L543.7 2200.7 L549.7 2203.1 L550.5 2200.1 L552.7 2200.7 L554.7 2190.7 L560.7 2192.7 L561.7 2185.1 L563.5 2185.7 L564.1 2182.1 L566.7 2182.7 L567.7 2178.5 L575.7 2181.5 L576.7 2176.7 L583.7 2179.1 L584.5 2172.7 L585.1 2160.1 L587.1 2160.7 L587.7 2154.1 L590.1 2154.5 L590.7 2145.7 L591.7 2145.1 L592.1 2103.7" fill="none" stroke="#262a7c" stroke-width="1.8" stroke-linejoin="round"/>
<path d="M202.1 2097.5V2110M272.8 2097.5V2110M273.8 2097.5V2110M274.8 2097.5V2110M275.8 2097.5V2110M327.2 2097.5V2110M332.2 2097.5V2110M342.6 2097.5V2110M342.4 2097.5V2110M415.6 2097.5V2110M423.6 2097.5V2110M449.7 2097.5V2110M461.1 2097.5V2110M487.1 2097.5V2110M502.1 2097.5V2110M509.7 2097.5V2110M510.7 2097.5V2110M511.7 2097.5V2110M523.7 2097.5V2110M543.7 2097.5V2110M550.5 2097.5V2110M552.7 2097.5V2110M554.1 2097.5V2110M555.1 2097.5V2110M560.7 2097.5V2110M562.1 2097.5V2110M563.7 2097.5V2110M567.5 2097.5V2110M576.1 2097.5V2110M584.1 2097.5V2110M586.1 2097.5V2110M587.5 2097.5V2110M588.7 2097.5V2110M590.1 2097.5V2110M591.5 2097.5V2110" stroke="#262a7c" stroke-width="1.4" fill="none"/>
<text font-size="23" text-anchor="middle" textLength="118.4" lengthAdjust="spacingAndGlyphs" transform="translate(93.1 2150.9) rotate(-90)">Trem2<tspan dy="-13.3" font-size="15.2">−/−</tspan><tspan dy="13.3">&#8203;</tspan> ES</text>
<path d="M184.5 2274V2398M268.5 2274V2398M352.6 2274V2398M436.5 2274V2398M520.1 2274V2398M603.5 2274V2398" stroke="#eeeeee" stroke-width="1" fill="none"/>
<path d="M164.1 2294.8H617.6M164.1 2323.3H617.6M164.1 2351.5H617.6" stroke="#eeeeee" stroke-width="1" fill="none"/>
<path d="M156.7 2294.8H164.1M156.7 2323.3H164.1M156.7 2351.5H164.1" stroke="#58595b" stroke-width="1" fill="none"/>
<line x1="156.7" y1="2380.1" x2="617.6" y2="2380.1" stroke="#231f20" stroke-width="0.9"/>
<text x="145.5" y="2298.1" font-size="17.5" text-anchor="end" textLength="26" lengthAdjust="spacingAndGlyphs">0.6</text>
<text x="145.5" y="2326.6" font-size="17.5" text-anchor="end" textLength="26.2" lengthAdjust="spacingAndGlyphs">0.4</text>
<text x="145.5" y="2354.8" font-size="17.5" text-anchor="end" textLength="26" lengthAdjust="spacingAndGlyphs">0.2</text>
<text x="145.5" y="2383.4" font-size="17.5" text-anchor="end" textLength="10.6" lengthAdjust="spacingAndGlyphs">0</text>
<path d="M184.5 2391.1V2398.5M268.5 2391.1V2398.5M352.6 2391.1V2398.5M436.5 2391.1V2398.5M520.1 2391.1V2398.5M603.5 2391.1V2398.5" stroke="#58595b" stroke-width="1" fill="none"/>
<text x="184.1" y="2420.1" font-size="17.5" text-anchor="middle" textLength="10.6" lengthAdjust="spacingAndGlyphs">0</text>
<text x="268" y="2420.1" font-size="17.5" text-anchor="middle" textLength="51" lengthAdjust="spacingAndGlyphs">5,000</text>
<text x="351.5" y="2420.1" font-size="17.5" text-anchor="middle" textLength="61" lengthAdjust="spacingAndGlyphs">10,000</text>
<text x="435.8" y="2420.1" font-size="17.5" text-anchor="middle" textLength="58.6" lengthAdjust="spacingAndGlyphs">15,000</text>
<text x="519.4" y="2420.1" font-size="17.5" text-anchor="middle" textLength="62.6" lengthAdjust="spacingAndGlyphs">20,000</text>
<text x="603.2" y="2420.1" font-size="17.5" text-anchor="middle" textLength="62" lengthAdjust="spacingAndGlyphs">25,000</text>
<path d="M184.5 2380.1 L184.7 2334.1 L186.1 2324.1 L187.1 2315.1 L189.1 2315.7 L189.7 2302 L191.7 2301.6 L192.5 2291.4 L200.1 2294.6 L201.7 2286 L205.1 2287 L206.1 2283.6 L221.7 2289.6 L223.7 2281.4 L231.1 2283.6 L232.1 2281 L233.7 2281.6 L234.5 2280 L239.1 2281.6 L240.1 2279.8 L248.1 2283 L250.7 2279.6 L261.1 2283.6 L262.1 2282.4 L270.2 2285 L271.2 2284.2 L281.2 2287.6 L282.2 2286.6 L295.2 2291 L296.2 2290.4 L303.2 2293 L305.2 2292 L317.2 2296 L318.2 2295.6 L329.2 2299.6 L330.2 2299.4 L434.1 2335.1 L435.1 2335.5 L459.1 2344.1 L460.1 2343.7 L477.1 2349.7 L478.1 2349.1 L513.1 2361.1 L514.1 2360.1 L516.1 2360.7 L517.1 2359.7 L519.1 2360.1 L521.1 2358.5 L585.1 2380.7 L585.7 2376.1 L596.7 2380.1" fill="none" stroke="#ed1c24" stroke-width="1.8" stroke-linejoin="round"/>
<path d="M184.5 2374.1V2386.1M185.7 2374.1V2386.1M188.5 2374.1V2386.1M190.1 2374.1V2386.1M191.3 2374.1V2386.1M192.5 2374.1V2386.1M201.1 2374.1V2386.1M205.7 2374.1V2386.1M222.5 2374.1V2386.1M231.1 2374.1V2386.1M233.5 2374.1V2386.1M239.7 2374.1V2386.1M248.1 2374.1V2386.1M249.1 2374.1V2386.1M250.1 2374.1V2386.1M261.5 2374.1V2386.1M270.8 2374.1V2386.1M281.2 2374.1V2386.1M295.2 2374.1V2386.1M303.2 2374.1V2386.1M304.4 2374.1V2386.1M305.6 2374.1V2386.1M317.6 2374.1V2386.1M329.6 2374.1V2386.1M434.1 2374.1V2386.1M459.7 2374.1V2386.1M477.7 2374.1V2386.1M514.1 2374.1V2386.1M516.5 2374.1V2386.1M518.7 2374.1V2386.1M520.7 2374.1V2386.1M585.5 2374.1V2386.1" stroke="#ed1c24" stroke-width="1.4" fill="none"/>
<text font-size="23" text-anchor="middle" textLength="137.7" lengthAdjust="spacingAndGlyphs" transform="translate(85.6 2333.3) rotate(-90)">Trem2 WT ES</text>
<text x="149.1" y="2452.1" font-size="25.5" textLength="81" lengthAdjust="spacingAndGlyphs">Foamy</text>
<text x="559.5" y="2452.1" font-size="25.5" textLength="135.7" lengthAdjust="spacingAndGlyphs">Non-foamy</text>
<text transform="translate(775 2025.7) scale(1.164 1)" font-size="39.5" font-weight="bold" stroke="#231f20" stroke-width="0.4">n</text>
<rect x="898.9" y="2269.5" width="29.7" height="59.9" fill="#fff" stroke="#414042" stroke-width="1.1"/>
<rect x="947.3" y="2172.7" width="29.3" height="156.7" fill="#b3b5b8" stroke="#414042" stroke-width="1.1"/>
<rect x="1027.7" y="2278" width="29" height="51.4" fill="#fff" stroke="#414042" stroke-width="1.1"/>
<rect x="1075.7" y="2271.1" width="29.3" height="58.3" fill="#b3b5b8" stroke="#414042" stroke-width="1.1"/>
<line x1="871.3" y1="2329.4" x2="1123.6" y2="2329.4" stroke="#414042" stroke-width="1.3"/>
<line x1="881.4" y1="2088.6" x2="881.4" y2="2329.4" stroke="#414042" stroke-width="1.3"/>
<path d="M871.3 2088.6H881.4M871.3 2148.5H881.4M871.3 2208.9H881.4M871.3 2269.3H881.4" stroke="#414042" stroke-width="1.3" fill="none"/>
<text x="857.9" y="2096" font-size="23.5" text-anchor="end" textLength="28.4" lengthAdjust="spacingAndGlyphs">40</text>
<text x="857.9" y="2155.9" font-size="23.5" text-anchor="end" textLength="28.4" lengthAdjust="spacingAndGlyphs">30</text>
<text x="857.9" y="2216.3" font-size="23.5" text-anchor="end" textLength="28.4" lengthAdjust="spacingAndGlyphs">20</text>
<text x="857.9" y="2276.7" font-size="23.5" text-anchor="end" textLength="26.4" lengthAdjust="spacingAndGlyphs">10</text>
<text x="857.9" y="2336.8" font-size="23.5" text-anchor="end" textLength="14.2" lengthAdjust="spacingAndGlyphs">0</text>
<path d="M913.7 2329.4V2339.4M962.1 2329.4V2339.4M1041.8 2329.4V2339.4M1090.2 2329.4V2339.4" stroke="#414042" stroke-width="1.3" fill="none"/>
<path d="M913.7 2255.4V2279.6M905.3 2255.4H922.1M905.3 2279.6H922.1" stroke="#231f20" stroke-width="1.2" fill="none"/>
<path d="M962.1 2158.7V2183.5M953.8 2158.7H970.4M953.8 2183.5H970.4" stroke="#231f20" stroke-width="1.2" fill="none"/>
<path d="M1042.3 2266V2287.2M1034.2 2266H1050.4M1034.2 2287.2H1050.4" stroke="#231f20" stroke-width="1.2" fill="none"/>
<path d="M1090.6 2258.4V2279.2M1082.5 2258.4H1098.7M1082.5 2279.2H1098.7" stroke="#231f20" stroke-width="1.2" fill="none"/>
<path d="M913.9 2213h0M913.7 2263.5h0M902.2 2273.4h0M913.7 2278.5h0M925.2 2273.4h0M913.9 2302.2h0M962.1 2119.5h0M962.1 2154.7h0M962.1 2169h0M962.1 2187.5h0M950.6 2199h0M973.1 2198.1h0M1042.7 2238.8h0M1042.3 2259.6h0M1030.3 2281.5h0M1053.8 2275.3h0M1053.8 2286.8h0M1042.7 2316.7h0M1079.1 2247.4h0M1101.7 2240h0M1079.1 2279.9h0M1079.1 2291.2h0M1101.7 2287.2h0" stroke="#231f20" stroke-width="11" stroke-linecap="round" fill="none"/>
<path d="M913.7 2198.5 L913.7 2088.6 L957 2088.6 L957 2102.9" fill="none" stroke="#6d6e71" stroke-width="1.2"/>
<path d="M966.2 2102.9 L966.2 2088.6 L1090.6 2088.6 L1090.6 2202.4" fill="none" stroke="#6d6e71" stroke-width="1.2"/>
<text x="937" y="2087.3" font-size="34" text-anchor="middle" textLength="58" lengthAdjust="spacingAndGlyphs">****</text>
<text x="1027.3" y="2087.3" font-size="34" text-anchor="middle" textLength="58" lengthAdjust="spacingAndGlyphs">****</text>
<text font-size="26.8" text-anchor="middle" textLength="196.5" lengthAdjust="spacingAndGlyphs" transform="translate(799.6 2209.2) rotate(-90)">Cytotoxicity (%)</text>
<text x="897.1" y="2369" font-size="22" textLength="31.8" lengthAdjust="spacingAndGlyphs">WT</text>
<text x="942.7" y="2369" font-size="22" textLength="28.1" lengthAdjust="spacingAndGlyphs">KO</text>
<text x="1028.4" y="2369" font-size="22" textLength="31.8" lengthAdjust="spacingAndGlyphs">WT</text>
<text x="1073.8" y="2369" font-size="22" textLength="28.4" lengthAdjust="spacingAndGlyphs">KO</text>
<line x1="900.6" y1="2378.3" x2="966.9" y2="2378.3" stroke="#231f20" stroke-width="1.1"/>
<line x1="1031.9" y1="2378.3" x2="1101" y2="2378.3" stroke="#231f20" stroke-width="1.1"/>
<text x="895.5" y="2404.8" font-size="25.5" textLength="80" lengthAdjust="spacingAndGlyphs">Foamy</text>
<text x="1022" y="2404.8" font-size="25.5" textLength="79" lengthAdjust="spacingAndGlyphs">Foamy</text>
<text x="1107.9" y="2395.6" font-size="19" text-anchor="middle">+</text>
<text x="1007.7" y="2438.2" font-size="25.5" textLength="118.7" lengthAdjust="spacingAndGlyphs">T0901317</text>
<text transform="translate(1182.6 2025.7) scale(1.080 1)" font-size="39.5" font-weight="bold" stroke="#231f20" stroke-width="0.4">o</text>
<line x1="1281.3" y1="2329.9" x2="1540.5" y2="2329.9" stroke="#414042" stroke-width="1.3"/>
<line x1="1291.4" y1="2082.6" x2="1291.4" y2="2329.9" stroke="#414042" stroke-width="1.3"/>
<path d="M1281.3 2082.6H1291.4M1281.3 2144.4H1291.4M1281.3 2206.6H1291.4M1281.3 2268.3H1291.4" stroke="#414042" stroke-width="1.3" fill="none"/>
<path d="M1285.2 2113.7H1291.4M1285.2 2175.5H1291.4M1285.2 2237.2H1291.4M1285.2 2299.4H1291.4" stroke="#414042" stroke-width="1.2" fill="none"/>
<text x="1267.9" y="2090" font-size="23.5" text-anchor="end" textLength="28.4" lengthAdjust="spacingAndGlyphs">40</text>
<text x="1267.9" y="2151.8" font-size="23.5" text-anchor="end" textLength="28.4" lengthAdjust="spacingAndGlyphs">30</text>
<text x="1267.9" y="2214" font-size="23.5" text-anchor="end" textLength="28.4" lengthAdjust="spacingAndGlyphs">20</text>
<text x="1267.9" y="2275.7" font-size="23.5" text-anchor="end" textLength="26.4" lengthAdjust="spacingAndGlyphs">10</text>
<text x="1267.9" y="2337.3" font-size="23.5" text-anchor="end" textLength="14.2" lengthAdjust="spacingAndGlyphs">0</text>
<path d="M1329 2329.9V2340.2M1386.6 2329.9V2340.2M1443.7 2329.9V2340.2M1501.3 2329.9V2340.2" stroke="#414042" stroke-width="1.3" fill="none"/>
<path d="M1329.4 2196.7V2206.6M1320.2 2196.7H1338.7M1320.2 2206.6H1338.7M1310.4 2201.3H1348.4" stroke="#414042" stroke-width="1.2" fill="none"/>
<path d="M1386.6 2131V2149.4M1377.3 2131H1395.8M1377.3 2149.4H1395.8M1367.6 2140.2H1405.6" stroke="#414042" stroke-width="1.2" fill="none"/>
<path d="M1444.2 2204.7V2217M1434.9 2204.7H1453.4M1434.9 2217H1453.4M1425.2 2210.5H1463.2" stroke="#414042" stroke-width="1.2" fill="none"/>
<path d="M1501.3 2196.7V2206.6M1492.1 2196.7H1510.6M1492.1 2206.6H1510.6M1482.3 2200.8H1520.3" stroke="#414042" stroke-width="1.2" fill="none"/>
<path d="M1329.4 2178.2h0M1322.5 2196.7h0M1336.4 2200.1h0M1315.2 2213.5h0M1329.4 2210.7h0M1344 2210.7h0M1372.8 2125.5h0M1386.6 2123.2h0M1401.1 2127.6h0M1386.6 2157.1h0M1386.6 2167.9h0M1429.9 2194.4h0M1458.5 2192.3h0M1444.2 2205.9h0M1429.9 2218.8h0M1458.5 2220h0M1444.2 2231.9h0M1487.5 2190h0M1515.6 2185.4h0M1487.5 2201.5h0M1515.6 2200.8h0M1487.5 2219.7h0M1515.6 2211.9h0" stroke="#231f20" stroke-width="11" stroke-linecap="round" fill="none"/>
<path d="M1329.4 2162.8 L1329.4 2059.1 L1382 2059.1 L1382 2108.7" fill="none" stroke="#58595b" stroke-width="1.2"/>
<path d="M1391.7 2108.7 L1391.7 2059.1 L1501.3 2059.1 L1501.3 2170.4" fill="none" stroke="#58595b" stroke-width="1.2"/>
<text x="1355.8" y="2056.9" font-size="34" text-anchor="middle" textLength="58.5" lengthAdjust="spacingAndGlyphs">****</text>
<text x="1445.6" y="2056.9" font-size="34" text-anchor="middle" textLength="58.5" lengthAdjust="spacingAndGlyphs">****</text>
<text font-size="26.8" text-anchor="middle" textLength="119" lengthAdjust="spacingAndGlyphs" transform="translate(1219.5 2206.2) rotate(-90)">XBP1<tspan dy="-12.3" font-size="19.3">hi</tspan><tspan dy="12.3">&#8203;</tspan> (%)</text>
<text x="1323.2" y="2369" font-size="22" textLength="31.8" lengthAdjust="spacingAndGlyphs">WT</text>
<text x="1368.6" y="2369" font-size="22" textLength="28.4" lengthAdjust="spacingAndGlyphs">KO</text>
<text x="1437.3" y="2369" font-size="22" textLength="31.8" lengthAdjust="spacingAndGlyphs">WT</text>
<text x="1482.9" y="2369" font-size="22" textLength="28.6" lengthAdjust="spacingAndGlyphs">KO</text>
<line x1="1326.7" y1="2378.3" x2="1393" y2="2378.3" stroke="#231f20" stroke-width="1.1"/>
<line x1="1440.7" y1="2378.3" x2="1509.9" y2="2378.3" stroke="#231f20" stroke-width="1.1"/>
<text x="1320.9" y="2404.8" font-size="25.5" textLength="80.2" lengthAdjust="spacingAndGlyphs">Foamy</text>
<text x="1431.1" y="2404.8" font-size="25.5" textLength="79.5" lengthAdjust="spacingAndGlyphs">Foamy</text>
<text x="1517.5" y="2395.6" font-size="19" text-anchor="middle">+</text>
<text x="1417.2" y="2438.2" font-size="25.5" textLength="119.1" lengthAdjust="spacingAndGlyphs">T0901317</text>
</svg>
</body></html>
